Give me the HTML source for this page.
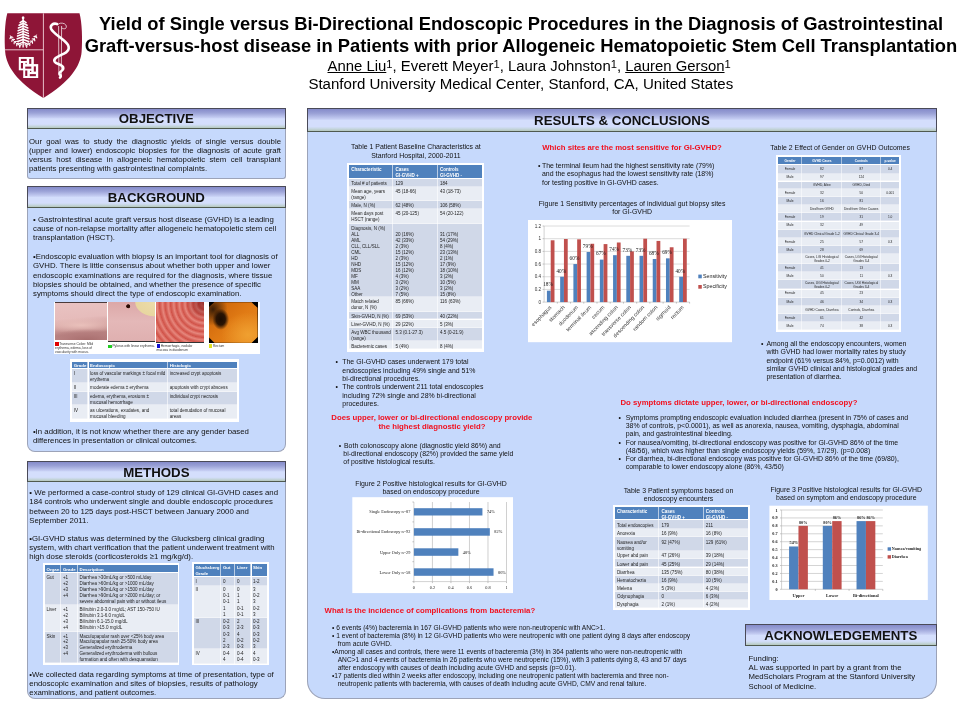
<!DOCTYPE html><html><head><meta charset="utf-8"><title>Poster</title><style>
*{margin:0;padding:0;box-sizing:border-box}
html,body{width:960px;height:720px;overflow:hidden;background:#fff}
body{position:relative;will-change:transform;font-family:"Liberation Sans",Arial,sans-serif;color:#111}
.t{position:absolute;white-space:nowrap}
.hd{position:absolute;border:1px solid #4a4a58;border-bottom:1.5px solid #4f5a4f;
 background:linear-gradient(to bottom,#858bca 0%,#9aa1d6 20%,#c4ccf2 45%,#d4defc 52%,#d4defc 80%,#c9d8e6 88%,#b5c8bd 100%)}
.bd{position:absolute;background:#c6d9fc;border:1px solid #9ca3b8;border-top:none}
.wb{position:absolute;background:#fff}
table{border-collapse:collapse;position:absolute;font-family:"Liberation Sans",Arial,sans-serif;color:#222}
</style></head><body><svg style="position:absolute;left:0;top:0" width="90" height="100" viewBox="0 0 90 100">
<path d="M7.3 13.3 L79.5 13.3 C82 22 82.6 40 81.6 52 C80.5 66 70 82 43.4 98 C16.8 82 6.3 66 5.2 52 C4.2 40 4.8 22 7.3 13.3 Z" fill="#8e1537"/>
<line x1="43.4" y1="13.3" x2="43.4" y2="97.8" stroke="#f0d0d8" stroke-width="0.9"/>
<line x1="4.5" y1="49.8" x2="43.4" y2="49.8" stroke="#f0d0d8" stroke-width="0.9"/>
<g fill="#fff" stroke="none">
 <ellipse cx="23.1" cy="17.8" rx="1.35" ry="1.6"/>
 <rect x="22.400000000000002" y="18.5" width="1.4" height="29"/>
 <ellipse cx="12.07" cy="37.10" rx="1.45" ry="0.65" transform="rotate(13.8 12.07 37.10)"/><ellipse cx="10.29" cy="37.98" rx="1.45" ry="0.65" transform="rotate(113.8 10.29 37.98)"/><ellipse cx="13.64" cy="39.45" rx="1.45" ry="0.65" transform="rotate(4.4 13.64 39.45)"/><ellipse cx="12.03" cy="40.61" rx="1.45" ry="0.65" transform="rotate(104.4 12.03 40.61)"/><ellipse cx="15.60" cy="41.54" rx="1.45" ry="0.65" transform="rotate(-5.0 15.60 41.54)"/><ellipse cx="14.19" cy="42.95" rx="1.45" ry="0.65" transform="rotate(95.0 14.19 42.95)"/><ellipse cx="17.93" cy="43.36" rx="1.45" ry="0.65" transform="rotate(-13.8 17.93 43.36)"/><ellipse cx="16.75" cy="44.97" rx="1.45" ry="0.65" transform="rotate(86.2 16.75 44.97)"/><ellipse cx="20.66" cy="44.95" rx="1.45" ry="0.65" transform="rotate(-21.6 20.66 44.95)"/><ellipse cx="19.71" cy="46.70" rx="1.45" ry="0.65" transform="rotate(78.4 19.71 46.70)"/><ellipse cx="36.47" cy="37.24" rx="1.45" ry="0.65" transform="rotate(66.4 36.47 37.24)"/><ellipse cx="34.68" cy="36.35" rx="1.45" ry="0.65" transform="rotate(166.4 34.68 36.35)"/><ellipse cx="34.66" cy="40.01" rx="1.45" ry="0.65" transform="rotate(75.3 34.66 40.01)"/><ellipse cx="33.04" cy="38.86" rx="1.45" ry="0.65" transform="rotate(175.3 33.04 38.86)"/><ellipse cx="32.44" cy="42.49" rx="1.45" ry="0.65" transform="rotate(84.0 32.44 42.49)"/><ellipse cx="31.00" cy="41.11" rx="1.45" ry="0.65" transform="rotate(184.0 31.00 41.11)"/><ellipse cx="29.80" cy="44.69" rx="1.45" ry="0.65" transform="rotate(92.1 29.80 44.69)"/><ellipse cx="28.58" cy="43.12" rx="1.45" ry="0.65" transform="rotate(192.1 28.58 43.12)"/><ellipse cx="26.77" cy="46.61" rx="1.45" ry="0.65" transform="rotate(99.5 26.77 46.61)"/><ellipse cx="25.76" cy="44.89" rx="1.45" ry="0.65" transform="rotate(199.5 25.76 44.89)"/>
</g>
<path d="M20.10 22.60 L23.10 20.60 L26.10 22.60 M19.10 25.30 L23.10 23.30 L27.10 25.30 M18.40 28.00 L23.10 26.00 L27.80 28.00 M18.10 30.70 L23.10 28.70 L28.10 30.70 M17.90 33.40 L23.10 31.40 L28.30 33.40 M17.50 36.10 L23.10 34.10 L28.70 36.10 M17.20 38.80 L23.10 36.80 L29.00 38.80 M17.50 41.50 L23.10 39.50 L28.70 41.50 M18.50 44.10 L23.10 42.10 L27.70 44.10" fill="none" stroke="#fff" stroke-width="1.55" stroke-linecap="round" stroke-linejoin="round"/>
<path d="M10.2 35.4 Q13 42.5 21 46.2 M36.6 34.6 Q33.6 42 25.4 46.2" fill="none" stroke="#fff" stroke-width="0.9"/>
<g fill="#fff">
 <rect x="18.8" y="57" width="15" height="13.3"/>
 <rect x="23.2" y="64.1" width="15" height="13.9"/>
</g>
<g fill="#8e1537">
 <rect x="20.9" y="58.9" width="5.8" height="2.1"/>
 <rect x="29.2" y="58.9" width="2.1" height="5"/>
 <rect x="25.5" y="62.8" width="1.2" height="1.3"/>
 <rect x="20.9" y="63" width="2.1" height="5.5"/>
 <rect x="25.25" y="66.6" width="6.05" height="2.1"/>
 <rect x="33.8" y="66.4" width="2.1" height="5.2"/>
 <rect x="30" y="70.75" width="1.3" height="1.25"/>
 <rect x="25.25" y="70.5" width="2.05" height="5.5"/>
 <rect x="29.8" y="74.1" width="6.1" height="2.1"/>
</g>
<g fill="none" stroke="#fff" stroke-width="0.7">
 <path d="M58.6 26 L58.9 75.5 M61.6 26 L61.3 75.5"/>
 <path d="M57.3 25.5 C58 23 62 22.5 64.5 23.8 C66.5 25 67 27 65.5 28.5 C64 29.2 62.5 28.4 61.6 28"/>
</g>
<path d="M57 23.9 C53 22.9 49.6 25.2 51.2 29 C53 33 60 37 65 41.5 C70.2 46 70 50.5 64 53.6 C58 56.6 53 58.2 54.6 61.6 C56.2 64.6 63 64.2 63.4 68 C63.8 71 59 71.4 59.5 73.6 C60 75.2 62 75.6 60 77.6" fill="none" stroke="#fff" stroke-width="2.6" stroke-linecap="round"/>
</svg>
<div class="t" style="top:13.00px;font-size:18.38px;line-height:22px;left:71.00px;width:900px;text-align:center;font-weight:bold;color:#000;">Yield of Single versus Bi-Directional Endoscopic Procedures in the Diagnosis of Gastrointestinal</div>
<div class="t" style="top:35.00px;font-size:18.38px;line-height:22px;left:71.00px;width:900px;text-align:center;font-weight:bold;color:#000;">Graft-versus-host disease in Patients with prior Allogeneic Hematopoietic Stem Cell Transplantation</div>
<div class="t" style="top:56.80px;font-size:14.9px;line-height:18px;left:327.50px;color:#000;text-underline-offset:1px;text-decoration-thickness:1px;text-decoration-color:#555;"><u>Anne Liu</u><span style="font-size:11.2px;vertical-align:3.1px;line-height:0">1</span>, Everett Meyer<span style="font-size:11.2px;vertical-align:3.1px;line-height:0">1</span>, Laura Johnston<span style="font-size:11.2px;vertical-align:3.1px;line-height:0">1</span>, <u>Lauren Gerson</u><span style="font-size:11.2px;vertical-align:3.1px;line-height:0">1</span></div>
<div class="t" style="top:74.70px;font-size:15.05px;line-height:18px;left:308.40px;color:#000;">Stanford University Medical Center, Stanford, CA, United States</div>
<div class="hd" style="left:27px;top:108.2px;width:258.7px;height:20.700000000000003px;"></div>
<div class="t" style="top:111.30px;font-size:13.25px;line-height:15.899999999999999px;left:27.00px;width:258.7px;text-align:center;font-weight:bold;">OBJECTIVE</div>
<div class="bd" style="left:27px;top:128.9px;width:258.7px;height:50.29999999999998px;border-radius:0 0 3px 3px;"></div>
<div class="hd" style="left:27px;top:186.0px;width:258.7px;height:22.0px;"></div>
<div class="t" style="top:190.30px;font-size:13.25px;line-height:15.899999999999999px;left:27.00px;width:258.7px;text-align:center;font-weight:bold;">BACKGROUND</div>
<div class="bd" style="left:27px;top:208.0px;width:258.7px;height:243.7px;border-radius:0 0 8px 8px;"></div>
<div class="hd" style="left:27px;top:461.25px;width:258.7px;height:21.05000000000001px;"></div>
<div class="t" style="top:464.80px;font-size:13.25px;line-height:15.899999999999999px;left:27.00px;width:258.7px;text-align:center;font-weight:bold;">METHODS</div>
<div class="bd" style="left:27px;top:482.3px;width:258.7px;height:216.90000000000003px;border-radius:0 0 8px 8px;"></div>
<div style="position:absolute;left:29px;top:137.30px;width:252px;font-size:7.8px;line-height:9.0px;white-space:nowrap;text-align:justify;text-align-last:justify;white-space:normal;">Our goal was to study the diagnostic yields of single versus double</div><div style="position:absolute;left:29px;top:146.30px;width:252px;font-size:7.8px;line-height:9.0px;white-space:nowrap;text-align:justify;text-align-last:justify;white-space:normal;">(upper and lower) endoscopic biopsies for the diagnosis of acute graft</div><div style="position:absolute;left:29px;top:155.30px;width:252px;font-size:7.8px;line-height:9.0px;white-space:nowrap;text-align:justify;text-align-last:justify;white-space:normal;">versus host disease in allogeneic hematopoietic stem cell transplant</div><div style="position:absolute;left:29px;top:164.30px;width:252px;font-size:7.8px;line-height:9.0px;white-space:nowrap;">patients presenting with gastrointestinal complaints.</div>
<div class="t" style="top:214.90px;font-size:7.8px;line-height:9.3px;left:33.10px;">• Gastrointestinal acute graft versus host disease (GVHD) is a leading<br>cause of non-relapse mortality after allogeneic hematopoietic stem cell<br>transplantation (HSCT).</div>
<div class="t" style="top:252.20px;font-size:7.8px;line-height:9.3px;left:33.00px;">•Endoscopic evaluation with biopsy is an important tool for diagnosis of<br>GVHD. There is little consensus about whether both upper and lower<br>endoscopic examinations are required for the diagnosis, where tissue<br>biopsies should be obtained, and whether the presence of specific<br>symptoms should direct the type of endoscopic examination.</div>
<div class="t" style="top:426.75px;font-size:7.8px;line-height:9.3px;left:32.90px;">•In addition, it is not know whether there are any gender based<br>differences in presentation or clinical outcomes.</div>
<div class="t" style="top:488.10px;font-size:7.8px;line-height:9.3px;left:29.30px;">• We performed a case-control study of 129 clinical GI-GVHD cases and<br>184 controls who underwent single and double endoscopic procedures<br>between 20 to 125 days post-HSCT between January 2000 and<br>September 2011.</div>
<div class="t" style="top:533.50px;font-size:7.8px;line-height:9.3px;left:29.30px;">•GI-GVHD status was determined by the Glucksberg clinical grading<br>system, with chart verification that the patient underwent treatment with<br>high dose steroids (corticosteroids ≥1 mg/kg/d).</div>
<div class="t" style="top:669.60px;font-size:7.8px;line-height:9.3px;left:29.30px;">•We collected data regarding symptoms at time of presentation, type of<br>endoscopic examination and sites of biopsies, results of pathology<br>examinations, and patient outcomes.</div>
<div class="wb" style="left:53.75px;top:301.9px;width:206.25px;height:52.1px"></div>
<div style="position:absolute;left:55px;top:302.2px;width:51.900000000000006px;height:37.80000000000001px;background:radial-gradient(ellipse 75% 30% at 62% 100%, #a86e6e 0%, #b47c7c 55%, transparent 100%), radial-gradient(ellipse 85% 22% at 50% 60%, rgba(236,196,190,0.9) 0%, transparent 100%), linear-gradient(175deg,#e9c3c2 0%,#e6bcbb 40%,#cf9c9b 62%,#b98382 80%,#c08c8b 100%);border-top:1.5px solid #4a3a3a;"></div>
<div style="position:absolute;left:108px;top:302.2px;width:47px;height:40.30000000000001px;background:radial-gradient(ellipse 5% 6% at 43% 11%, #2a0c04 0%, #2a0c04 70%, transparent 100%), radial-gradient(ellipse 48% 42% at 100% 0%, #ecdcaa 0%, #e8d6a0 85%, transparent 90%), linear-gradient(180deg,#dca8a8 0%,#e4b8b8 50%,#dfb0b0 100%);border-bottom:1.2px solid #333;"></div>
<div style="position:absolute;left:156.25px;top:302.2px;width:48.150000000000006px;height:40.55000000000001px;background:radial-gradient(circle at 100% 0%, rgba(120,20,20,0.7) 0%, transparent 30%), repeating-radial-gradient(circle at 100% 5%, #d65a50 0, #e6877d 2.2px, #d66258 4.2px, #d05248 5.6px), linear-gradient(#d86a60,#d86a60);border-bottom:1.2px solid #333;"></div>
<div style="position:absolute;left:208.5px;top:302.2px;width:49px;height:40.55px;background:#000"></div>
<div style="position:absolute;left:208.5px;top:302.2px;width:49.0px;height:40.55000000000001px;background:radial-gradient(ellipse 17% 26% at 24% 42%, #1a0c02 0%, #2a1404 55%, transparent 100%), radial-gradient(ellipse 30% 40% at 8% 18%, #3a1e06 0%, transparent 100%), radial-gradient(ellipse 55% 55% at 80% 80%, #f0a030 0%, transparent 100%), linear-gradient(135deg,#c86008 0%,#e07a14 50%,#e88a20 100%);clip-path:polygon(12% 0,88% 0,100% 14%,100% 86%,88% 100%,12% 100%,0 86%,0 14%);"></div>
<div style="position:absolute;left:55px;top:342.3px;width:3.6px;height:3.6px;background:#e00000"></div>
<div class="t" style="left:59.2px;top:341.7px;font-size:3.3px;line-height:4.3px;color:#333">Transverse Colon: Mild</div>
<div class="t" style="left:55px;top:346.1px;font-size:3.3px;line-height:4.3px;color:#333">erythema, edema, loss of<br>vascularity with mucus.</div>
<div style="position:absolute;left:108.2px;top:344.6px;width:3.6px;height:3.6px;background:#22cc22"></div>
<div class="t" style="left:112.4px;top:344.0px;font-size:3.3px;line-height:4.3px;color:#333">Pylorus with linear erythema.</div>
<div style="position:absolute;left:156.5px;top:344.3px;width:3.6px;height:3.6px;background:#1010d0"></div>
<div class="t" style="left:160.7px;top:343.7px;font-size:3.3px;line-height:4.3px;color:#333">Hemorrhagic, nodular</div>
<div class="t" style="left:156.5px;top:348.1px;font-size:3.3px;line-height:4.3px;color:#333">mucosa in duodenum</div>
<div style="position:absolute;left:208.7px;top:344.3px;width:3.6px;height:3.6px;background:#e0e020"></div>
<div class="t" style="left:212.89999999999998px;top:343.7px;font-size:3.3px;line-height:4.3px;color:#333">Rectum</div>
<div class="wb" style="left:69.7px;top:359.1px;width:169.39999999999998px;height:62.5px"></div>
<div style="position:absolute;left:72.10px;top:361.60px;width:16.40px;height:7.50px;background:#4f81bd;box-shadow:inset -1px 0 0 rgba(255,255,255,0.6),inset 0 -1px 0 #fff;"></div><div style="position:absolute;left:73.70px;top:363.20px;font-size:4.4px;line-height:6.0px;color:#fff;font-weight:bold;white-space:nowrap;">Grade</div><div style="position:absolute;left:88.50px;top:361.60px;width:79.70px;height:7.50px;background:#4f81bd;box-shadow:inset -1px 0 0 rgba(255,255,255,0.6),inset 0 -1px 0 #fff;"></div><div style="position:absolute;left:90.10px;top:363.20px;font-size:4.4px;line-height:6.0px;color:#fff;font-weight:bold;white-space:nowrap;">Endoscopic</div><div style="position:absolute;left:168.20px;top:361.60px;width:68.50px;height:7.50px;background:#4f81bd;box-shadow:inset 0 -1px 0 #fff;"></div><div style="position:absolute;left:169.80px;top:363.20px;font-size:4.4px;line-height:6.0px;color:#fff;font-weight:bold;white-space:nowrap;">Histologic</div><div style="position:absolute;left:72.10px;top:369.10px;width:16.40px;height:13.70px;background:#d0d8e8;box-shadow:inset -1px 0 0 rgba(255,255,255,0.6),inset 0 -1px 0 rgba(255,255,255,0.4);"></div><div style="position:absolute;left:73.70px;top:371.30px;font-size:4.55px;line-height:6.0px;color:#1e1e1e;font-weight:normal;white-space:nowrap;">I</div><div style="position:absolute;left:88.50px;top:369.10px;width:79.70px;height:13.70px;background:#d0d8e8;box-shadow:inset -1px 0 0 rgba(255,255,255,0.6),inset 0 -1px 0 rgba(255,255,255,0.4);"></div><div style="position:absolute;left:90.10px;top:371.30px;font-size:4.55px;line-height:6.0px;color:#1e1e1e;font-weight:normal;white-space:nowrap;">loss of vascular markings ± focal mild<br>erythema</div><div style="position:absolute;left:168.20px;top:369.10px;width:68.50px;height:13.70px;background:#d0d8e8;box-shadow:inset 0 -1px 0 rgba(255,255,255,0.4);"></div><div style="position:absolute;left:169.80px;top:371.30px;font-size:4.55px;line-height:6.0px;color:#1e1e1e;font-weight:normal;white-space:nowrap;">increased crypt apoptosis</div><div style="position:absolute;left:72.10px;top:382.80px;width:16.40px;height:8.80px;background:#e9edf4;box-shadow:inset -1px 0 0 rgba(255,255,255,0.6),inset 0 -1px 0 rgba(255,255,255,0.4);"></div><div style="position:absolute;left:73.70px;top:385.00px;font-size:4.55px;line-height:6.0px;color:#1e1e1e;font-weight:normal;white-space:nowrap;">II</div><div style="position:absolute;left:88.50px;top:382.80px;width:79.70px;height:8.80px;background:#e9edf4;box-shadow:inset -1px 0 0 rgba(255,255,255,0.6),inset 0 -1px 0 rgba(255,255,255,0.4);"></div><div style="position:absolute;left:90.10px;top:385.00px;font-size:4.55px;line-height:6.0px;color:#1e1e1e;font-weight:normal;white-space:nowrap;">moderate edema ± erythema</div><div style="position:absolute;left:168.20px;top:382.80px;width:68.50px;height:8.80px;background:#e9edf4;box-shadow:inset 0 -1px 0 rgba(255,255,255,0.4);"></div><div style="position:absolute;left:169.80px;top:385.00px;font-size:4.55px;line-height:6.0px;color:#1e1e1e;font-weight:normal;white-space:nowrap;">apoptosis with crypt abscess</div><div style="position:absolute;left:72.10px;top:391.60px;width:16.40px;height:13.70px;background:#d0d8e8;box-shadow:inset -1px 0 0 rgba(255,255,255,0.6),inset 0 -1px 0 rgba(255,255,255,0.4);"></div><div style="position:absolute;left:73.70px;top:393.80px;font-size:4.55px;line-height:6.0px;color:#1e1e1e;font-weight:normal;white-space:nowrap;">III</div><div style="position:absolute;left:88.50px;top:391.60px;width:79.70px;height:13.70px;background:#d0d8e8;box-shadow:inset -1px 0 0 rgba(255,255,255,0.6),inset 0 -1px 0 rgba(255,255,255,0.4);"></div><div style="position:absolute;left:90.10px;top:393.80px;font-size:4.55px;line-height:6.0px;color:#1e1e1e;font-weight:normal;white-space:nowrap;">edema, erythema, erosions ±<br>mucosal hemorrhage</div><div style="position:absolute;left:168.20px;top:391.60px;width:68.50px;height:13.70px;background:#d0d8e8;box-shadow:inset 0 -1px 0 rgba(255,255,255,0.4);"></div><div style="position:absolute;left:169.80px;top:393.80px;font-size:4.55px;line-height:6.0px;color:#1e1e1e;font-weight:normal;white-space:nowrap;">individual crypt necrosis</div><div style="position:absolute;left:72.10px;top:405.30px;width:16.40px;height:14.10px;background:#e9edf4;box-shadow:inset -1px 0 0 rgba(255,255,255,0.6),inset 0 -1px 0 rgba(255,255,255,0.4);"></div><div style="position:absolute;left:73.70px;top:407.50px;font-size:4.55px;line-height:6.0px;color:#1e1e1e;font-weight:normal;white-space:nowrap;">IV</div><div style="position:absolute;left:88.50px;top:405.30px;width:79.70px;height:14.10px;background:#e9edf4;box-shadow:inset -1px 0 0 rgba(255,255,255,0.6),inset 0 -1px 0 rgba(255,255,255,0.4);"></div><div style="position:absolute;left:90.10px;top:407.50px;font-size:4.55px;line-height:6.0px;color:#1e1e1e;font-weight:normal;white-space:nowrap;">as ulcerations, exudates, and<br>mucosal bleeding</div><div style="position:absolute;left:168.20px;top:405.30px;width:68.50px;height:14.10px;background:#e9edf4;box-shadow:inset 0 -1px 0 rgba(255,255,255,0.4);"></div><div style="position:absolute;left:169.80px;top:407.50px;font-size:4.55px;line-height:6.0px;color:#1e1e1e;font-weight:normal;white-space:nowrap;">total denudation of mucosal<br>areas</div>
<div class="wb" style="left:43.4px;top:563.1px;width:136.1px;height:101.60000000000002px"></div>
<div style="position:absolute;left:45.00px;top:565.20px;width:16.40px;height:7.60px;background:#4f81bd;box-shadow:inset -1px 0 0 rgba(255,255,255,0.6),inset 0 -1px 0 #fff;"></div><div style="position:absolute;left:46.50px;top:566.80px;font-size:4.4px;line-height:5.95px;color:#fff;font-weight:bold;white-space:nowrap;">Organ</div><div style="position:absolute;left:61.40px;top:565.20px;width:16.60px;height:7.60px;background:#4f81bd;box-shadow:inset -1px 0 0 rgba(255,255,255,0.6),inset 0 -1px 0 #fff;"></div><div style="position:absolute;left:62.90px;top:566.80px;font-size:4.4px;line-height:5.95px;color:#fff;font-weight:bold;white-space:nowrap;">Grade</div><div style="position:absolute;left:78.00px;top:565.20px;width:100.00px;height:7.60px;background:#4f81bd;box-shadow:inset 0 -1px 0 #fff;"></div><div style="position:absolute;left:79.50px;top:566.80px;font-size:4.4px;line-height:5.95px;color:#fff;font-weight:bold;white-space:nowrap;">Description</div><div style="position:absolute;left:45.00px;top:572.80px;width:16.40px;height:32.00px;background:#d0d8e8;box-shadow:inset -1px 0 0 rgba(255,255,255,0.6),inset 0 -1px 0 rgba(255,255,255,0.4);"></div><div style="position:absolute;left:46.50px;top:574.70px;font-size:4.55px;line-height:5.95px;color:#1e1e1e;font-weight:normal;white-space:nowrap;">Gut</div><div style="position:absolute;left:61.40px;top:572.80px;width:16.60px;height:32.00px;background:#d0d8e8;box-shadow:inset -1px 0 0 rgba(255,255,255,0.6),inset 0 -1px 0 rgba(255,255,255,0.4);"></div><div style="position:absolute;left:62.90px;top:574.70px;font-size:4.55px;line-height:5.95px;color:#1e1e1e;font-weight:normal;white-space:nowrap;">+1<br>+2<br>+3<br>+4</div><div style="position:absolute;left:78.00px;top:572.80px;width:100.00px;height:32.00px;background:#d0d8e8;box-shadow:inset 0 -1px 0 rgba(255,255,255,0.4);"></div><div style="position:absolute;left:79.50px;top:574.70px;font-size:4.55px;line-height:5.95px;color:#1e1e1e;font-weight:normal;white-space:nowrap;">Diarrhea &gt;30mL/kg or &gt;500 mL/day<br>Diarrhea &gt;60mL/kg or &gt;1000 mL/day<br>Diarrhea &gt;90mL/kg or &gt;1500 mL/day<br>Diarrhea &gt;90mL/kg or &gt;2000 mL/day; or<br>severe abdominal pain with or without ileus</div><div style="position:absolute;left:45.00px;top:604.80px;width:16.40px;height:26.80px;background:#e9edf4;box-shadow:inset -1px 0 0 rgba(255,255,255,0.6),inset 0 -1px 0 rgba(255,255,255,0.4);"></div><div style="position:absolute;left:46.50px;top:606.70px;font-size:4.55px;line-height:5.95px;color:#1e1e1e;font-weight:normal;white-space:nowrap;">Liver</div><div style="position:absolute;left:61.40px;top:604.80px;width:16.60px;height:26.80px;background:#e9edf4;box-shadow:inset -1px 0 0 rgba(255,255,255,0.6),inset 0 -1px 0 rgba(255,255,255,0.4);"></div><div style="position:absolute;left:62.90px;top:606.70px;font-size:4.55px;line-height:5.95px;color:#1e1e1e;font-weight:normal;white-space:nowrap;">+1<br>+2<br>+3<br>+4</div><div style="position:absolute;left:78.00px;top:604.80px;width:100.00px;height:26.80px;background:#e9edf4;box-shadow:inset 0 -1px 0 rgba(255,255,255,0.4);"></div><div style="position:absolute;left:79.50px;top:606.70px;font-size:4.55px;line-height:5.95px;color:#1e1e1e;font-weight:normal;white-space:nowrap;">Bilirubin 2.0-3.0 mg/dL; AST 150-750 IU<br>Bilirubin 3.1-6.0 mg/dL<br>Bilirubin 6.1-15.0 mg/dL<br>Bilirubin &gt;15.0 mg/dL</div><div style="position:absolute;left:45.00px;top:631.60px;width:16.40px;height:31.50px;background:#d0d8e8;box-shadow:inset -1px 0 0 rgba(255,255,255,0.6),inset 0 -1px 0 rgba(255,255,255,0.4);"></div><div style="position:absolute;left:46.50px;top:633.50px;font-size:4.55px;line-height:5.95px;color:#1e1e1e;font-weight:normal;white-space:nowrap;">Skin</div><div style="position:absolute;left:61.40px;top:631.60px;width:16.60px;height:31.50px;background:#d0d8e8;box-shadow:inset -1px 0 0 rgba(255,255,255,0.6),inset 0 -1px 0 rgba(255,255,255,0.4);"></div><div style="position:absolute;left:62.90px;top:633.50px;font-size:4.55px;line-height:5.95px;color:#1e1e1e;font-weight:normal;white-space:nowrap;">+1<br>+2<br>+3<br>+4</div><div style="position:absolute;left:78.00px;top:631.60px;width:100.00px;height:31.50px;background:#d0d8e8;box-shadow:inset 0 -1px 0 rgba(255,255,255,0.4);"></div><div style="position:absolute;left:79.50px;top:633.50px;font-size:4.55px;line-height:5.95px;color:#1e1e1e;font-weight:normal;white-space:nowrap;">Maculopapular rash over &lt;25% body area<br>Maculopapular rash 25-50% body area<br>Generalized erythroderma<br>Generalized erythroderma with bullous<br>formation and often with desquamation</div>
<div class="wb" style="left:191.9px;top:562.3px;width:76.79999999999998px;height:103.10000000000002px"></div>
<div style="position:absolute;left:193.90px;top:563.80px;width:27.50px;height:13.30px;background:#4f81bd;box-shadow:inset -1px 0 0 rgba(255,255,255,0.6),inset 0 -1px 0 #fff;"></div><div style="position:absolute;left:195.40px;top:565.10px;font-size:4.4px;line-height:6.1px;color:#fff;font-weight:bold;white-space:nowrap;">Glucksberg<br>Grade</div><div style="position:absolute;left:221.40px;top:563.80px;width:14.00px;height:13.30px;background:#4f81bd;box-shadow:inset -1px 0 0 rgba(255,255,255,0.6),inset 0 -1px 0 #fff;"></div><div style="position:absolute;left:222.90px;top:565.10px;font-size:4.4px;line-height:6.1px;color:#fff;font-weight:bold;white-space:nowrap;">Gut</div><div style="position:absolute;left:235.40px;top:563.80px;width:16.10px;height:13.30px;background:#4f81bd;box-shadow:inset -1px 0 0 rgba(255,255,255,0.6),inset 0 -1px 0 #fff;"></div><div style="position:absolute;left:236.90px;top:565.10px;font-size:4.4px;line-height:6.1px;color:#fff;font-weight:bold;white-space:nowrap;">Liver</div><div style="position:absolute;left:251.50px;top:563.80px;width:15.30px;height:13.30px;background:#4f81bd;box-shadow:inset 0 -1px 0 #fff;"></div><div style="position:absolute;left:253.00px;top:565.10px;font-size:4.4px;line-height:6.1px;color:#fff;font-weight:bold;white-space:nowrap;">Skin</div><div style="position:absolute;left:193.90px;top:577.10px;width:27.50px;height:8.60px;background:#d0d8e8;box-shadow:inset -1px 0 0 rgba(255,255,255,0.6),inset 0 -1px 0 rgba(255,255,255,0.4);"></div><div style="position:absolute;left:195.40px;top:578.70px;font-size:4.55px;line-height:6.1px;color:#1e1e1e;font-weight:normal;white-space:nowrap;">I</div><div style="position:absolute;left:221.40px;top:577.10px;width:14.00px;height:8.60px;background:#d0d8e8;box-shadow:inset -1px 0 0 rgba(255,255,255,0.6),inset 0 -1px 0 rgba(255,255,255,0.4);"></div><div style="position:absolute;left:222.90px;top:578.70px;font-size:4.55px;line-height:6.1px;color:#1e1e1e;font-weight:normal;white-space:nowrap;">0</div><div style="position:absolute;left:235.40px;top:577.10px;width:16.10px;height:8.60px;background:#d0d8e8;box-shadow:inset -1px 0 0 rgba(255,255,255,0.6),inset 0 -1px 0 rgba(255,255,255,0.4);"></div><div style="position:absolute;left:236.90px;top:578.70px;font-size:4.55px;line-height:6.1px;color:#1e1e1e;font-weight:normal;white-space:nowrap;">0</div><div style="position:absolute;left:251.50px;top:577.10px;width:15.30px;height:8.60px;background:#d0d8e8;box-shadow:inset 0 -1px 0 rgba(255,255,255,0.4);"></div><div style="position:absolute;left:253.00px;top:578.70px;font-size:4.55px;line-height:6.1px;color:#1e1e1e;font-weight:normal;white-space:nowrap;">1-2</div><div style="position:absolute;left:193.90px;top:585.70px;width:27.50px;height:32.10px;background:#e9edf4;box-shadow:inset -1px 0 0 rgba(255,255,255,0.6),inset 0 -1px 0 rgba(255,255,255,0.4);"></div><div style="position:absolute;left:195.40px;top:587.30px;font-size:4.55px;line-height:6.1px;color:#1e1e1e;font-weight:normal;white-space:nowrap;">II</div><div style="position:absolute;left:221.40px;top:585.70px;width:14.00px;height:32.10px;background:#e9edf4;box-shadow:inset -1px 0 0 rgba(255,255,255,0.6),inset 0 -1px 0 rgba(255,255,255,0.4);"></div><div style="position:absolute;left:222.90px;top:587.30px;font-size:4.55px;line-height:6.1px;color:#1e1e1e;font-weight:normal;white-space:nowrap;">0<br>0-1<br>0-1<br>1<br>1</div><div style="position:absolute;left:235.40px;top:585.70px;width:16.10px;height:32.10px;background:#e9edf4;box-shadow:inset -1px 0 0 rgba(255,255,255,0.6),inset 0 -1px 0 rgba(255,255,255,0.4);"></div><div style="position:absolute;left:236.90px;top:587.30px;font-size:4.55px;line-height:6.1px;color:#1e1e1e;font-weight:normal;white-space:nowrap;">0<br>1<br>1<br>0-1<br>0-1</div><div style="position:absolute;left:251.50px;top:585.70px;width:15.30px;height:32.10px;background:#e9edf4;box-shadow:inset 0 -1px 0 rgba(255,255,255,0.4);"></div><div style="position:absolute;left:253.00px;top:587.30px;font-size:4.55px;line-height:6.1px;color:#1e1e1e;font-weight:normal;white-space:nowrap;">3<br>0-2<br>3<br>0-2<br>3</div><div style="position:absolute;left:193.90px;top:617.80px;width:27.50px;height:31.60px;background:#d0d8e8;box-shadow:inset -1px 0 0 rgba(255,255,255,0.6),inset 0 -1px 0 rgba(255,255,255,0.4);"></div><div style="position:absolute;left:195.40px;top:619.40px;font-size:4.55px;line-height:6.1px;color:#1e1e1e;font-weight:normal;white-space:nowrap;">III</div><div style="position:absolute;left:221.40px;top:617.80px;width:14.00px;height:31.60px;background:#d0d8e8;box-shadow:inset -1px 0 0 rgba(255,255,255,0.6),inset 0 -1px 0 rgba(255,255,255,0.4);"></div><div style="position:absolute;left:222.90px;top:619.40px;font-size:4.55px;line-height:6.1px;color:#1e1e1e;font-weight:normal;white-space:nowrap;">0-2<br>0-3<br>0-3<br>2<br>2-3</div><div style="position:absolute;left:235.40px;top:617.80px;width:16.10px;height:31.60px;background:#d0d8e8;box-shadow:inset -1px 0 0 rgba(255,255,255,0.6),inset 0 -1px 0 rgba(255,255,255,0.4);"></div><div style="position:absolute;left:236.90px;top:619.40px;font-size:4.55px;line-height:6.1px;color:#1e1e1e;font-weight:normal;white-space:nowrap;">2<br>2-3<br>4<br>0-2<br>0-3</div><div style="position:absolute;left:251.50px;top:617.80px;width:15.30px;height:31.60px;background:#d0d8e8;box-shadow:inset 0 -1px 0 rgba(255,255,255,0.4);"></div><div style="position:absolute;left:253.00px;top:619.40px;font-size:4.55px;line-height:6.1px;color:#1e1e1e;font-weight:normal;white-space:nowrap;">0-2<br>0-3<br>0-3<br>0-2<br>3</div><div style="position:absolute;left:193.90px;top:649.40px;width:27.50px;height:14.20px;background:#e9edf4;box-shadow:inset -1px 0 0 rgba(255,255,255,0.6),inset 0 -1px 0 rgba(255,255,255,0.4);"></div><div style="position:absolute;left:195.40px;top:651.00px;font-size:4.55px;line-height:6.1px;color:#1e1e1e;font-weight:normal;white-space:nowrap;">IV</div><div style="position:absolute;left:221.40px;top:649.40px;width:14.00px;height:14.20px;background:#e9edf4;box-shadow:inset -1px 0 0 rgba(255,255,255,0.6),inset 0 -1px 0 rgba(255,255,255,0.4);"></div><div style="position:absolute;left:222.90px;top:651.00px;font-size:4.55px;line-height:6.1px;color:#1e1e1e;font-weight:normal;white-space:nowrap;">0-4<br>4</div><div style="position:absolute;left:235.40px;top:649.40px;width:16.10px;height:14.20px;background:#e9edf4;box-shadow:inset -1px 0 0 rgba(255,255,255,0.6),inset 0 -1px 0 rgba(255,255,255,0.4);"></div><div style="position:absolute;left:236.90px;top:651.00px;font-size:4.55px;line-height:6.1px;color:#1e1e1e;font-weight:normal;white-space:nowrap;">0-4<br>0-4</div><div style="position:absolute;left:251.50px;top:649.40px;width:15.30px;height:14.20px;background:#e9edf4;box-shadow:inset 0 -1px 0 rgba(255,255,255,0.4);"></div><div style="position:absolute;left:253.00px;top:651.00px;font-size:4.55px;line-height:6.1px;color:#1e1e1e;font-weight:normal;white-space:nowrap;">4<br>0-3</div>
<div class="hd" style="left:307.2px;top:108.1px;width:629.5px;height:23.700000000000017px;"></div>
<div class="t" style="top:112.80px;font-size:13.25px;line-height:15.899999999999999px;left:307.20px;width:629.5px;text-align:center;font-weight:bold;">RESULTS &amp; CONCLUSIONS</div>
<div class="bd" style="left:307.2px;top:131.8px;width:629.5px;height:567.4000000000001px;border-radius:0 0 18px 18px;"></div>
<div class="t" style="top:143.10px;font-size:6.93px;line-height:8.5px;left:315.90px;width:200px;text-align:center;">Table 1 Patient Baseline Characteristics at<br>Stanford Hospital, 2000-2011</div>
<div class="wb" style="left:347.3px;top:163.4px;width:137.2px;height:188.20000000000002px"></div>
<div style="position:absolute;left:349.00px;top:164.90px;width:44.20px;height:13.80px;background:#4f81bd;box-shadow:inset -1px 0 0 rgba(255,255,255,0.6),inset 0 -1px 0 #fff;"></div><div style="position:absolute;left:351.20px;top:167.00px;font-size:4.55px;line-height:6.0px;color:#fff;font-weight:bold;white-space:nowrap;">Characteristic</div><div style="position:absolute;left:393.20px;top:164.90px;width:44.50px;height:13.80px;background:#4f81bd;box-shadow:inset -1px 0 0 rgba(255,255,255,0.6),inset 0 -1px 0 #fff;"></div><div style="position:absolute;left:395.40px;top:167.00px;font-size:4.55px;line-height:6.0px;color:#fff;font-weight:bold;white-space:nowrap;">Cases<br>GI-GVHD +</div><div style="position:absolute;left:437.70px;top:164.90px;width:44.50px;height:13.80px;background:#4f81bd;box-shadow:inset 0 -1px 0 #fff;"></div><div style="position:absolute;left:439.90px;top:167.00px;font-size:4.55px;line-height:6.0px;color:#fff;font-weight:bold;white-space:nowrap;">Controls<br>GI-GVHD -</div><div style="position:absolute;left:349.00px;top:178.70px;width:44.20px;height:8.30px;background:#d0d8e8;box-shadow:inset -1px 0 0 rgba(255,255,255,0.6),inset 0 -1px 0 rgba(255,255,255,0.4);"></div><div style="position:absolute;left:351.20px;top:181.00px;font-size:4.55px;line-height:6.0px;color:#1e1e1e;font-weight:normal;white-space:nowrap;">Total # of patients</div><div style="position:absolute;left:393.20px;top:178.70px;width:44.50px;height:8.30px;background:#d0d8e8;box-shadow:inset -1px 0 0 rgba(255,255,255,0.6),inset 0 -1px 0 rgba(255,255,255,0.4);"></div><div style="position:absolute;left:395.40px;top:181.00px;font-size:4.55px;line-height:6.0px;color:#1e1e1e;font-weight:normal;white-space:nowrap;">129</div><div style="position:absolute;left:437.70px;top:178.70px;width:44.50px;height:8.30px;background:#d0d8e8;box-shadow:inset 0 -1px 0 rgba(255,255,255,0.4);"></div><div style="position:absolute;left:439.90px;top:181.00px;font-size:4.55px;line-height:6.0px;color:#1e1e1e;font-weight:normal;white-space:nowrap;">184</div><div style="position:absolute;left:349.00px;top:187.00px;width:44.20px;height:13.80px;background:#e9edf4;box-shadow:inset -1px 0 0 rgba(255,255,255,0.6),inset 0 -1px 0 rgba(255,255,255,0.4);"></div><div style="position:absolute;left:351.20px;top:189.30px;font-size:4.55px;line-height:6.0px;color:#1e1e1e;font-weight:normal;white-space:nowrap;">Mean age, years<br>(range)</div><div style="position:absolute;left:393.20px;top:187.00px;width:44.50px;height:13.80px;background:#e9edf4;box-shadow:inset -1px 0 0 rgba(255,255,255,0.6),inset 0 -1px 0 rgba(255,255,255,0.4);"></div><div style="position:absolute;left:395.40px;top:189.30px;font-size:4.55px;line-height:6.0px;color:#1e1e1e;font-weight:normal;white-space:nowrap;">45 (18-66)</div><div style="position:absolute;left:437.70px;top:187.00px;width:44.50px;height:13.80px;background:#e9edf4;box-shadow:inset 0 -1px 0 rgba(255,255,255,0.4);"></div><div style="position:absolute;left:439.90px;top:189.30px;font-size:4.55px;line-height:6.0px;color:#1e1e1e;font-weight:normal;white-space:nowrap;">43 (18-73)</div><div style="position:absolute;left:349.00px;top:200.80px;width:44.20px;height:7.80px;background:#d0d8e8;box-shadow:inset -1px 0 0 rgba(255,255,255,0.6),inset 0 -1px 0 rgba(255,255,255,0.4);"></div><div style="position:absolute;left:351.20px;top:203.10px;font-size:4.55px;line-height:6.0px;color:#1e1e1e;font-weight:normal;white-space:nowrap;">Male, N (%)</div><div style="position:absolute;left:393.20px;top:200.80px;width:44.50px;height:7.80px;background:#d0d8e8;box-shadow:inset -1px 0 0 rgba(255,255,255,0.6),inset 0 -1px 0 rgba(255,255,255,0.4);"></div><div style="position:absolute;left:395.40px;top:203.10px;font-size:4.55px;line-height:6.0px;color:#1e1e1e;font-weight:normal;white-space:nowrap;">62 (48%)</div><div style="position:absolute;left:437.70px;top:200.80px;width:44.50px;height:7.80px;background:#d0d8e8;box-shadow:inset 0 -1px 0 rgba(255,255,255,0.4);"></div><div style="position:absolute;left:439.90px;top:203.10px;font-size:4.55px;line-height:6.0px;color:#1e1e1e;font-weight:normal;white-space:nowrap;">106 (58%)</div><div style="position:absolute;left:349.00px;top:208.60px;width:44.20px;height:15.10px;background:#e9edf4;box-shadow:inset -1px 0 0 rgba(255,255,255,0.6),inset 0 -1px 0 rgba(255,255,255,0.4);"></div><div style="position:absolute;left:351.20px;top:210.90px;font-size:4.55px;line-height:6.0px;color:#1e1e1e;font-weight:normal;white-space:nowrap;">Mean days post<br>HSCT (range)</div><div style="position:absolute;left:393.20px;top:208.60px;width:44.50px;height:15.10px;background:#e9edf4;box-shadow:inset -1px 0 0 rgba(255,255,255,0.6),inset 0 -1px 0 rgba(255,255,255,0.4);"></div><div style="position:absolute;left:395.40px;top:210.90px;font-size:4.55px;line-height:6.0px;color:#1e1e1e;font-weight:normal;white-space:nowrap;">45 (20-125)</div><div style="position:absolute;left:437.70px;top:208.60px;width:44.50px;height:15.10px;background:#e9edf4;box-shadow:inset 0 -1px 0 rgba(255,255,255,0.4);"></div><div style="position:absolute;left:439.90px;top:210.90px;font-size:4.55px;line-height:6.0px;color:#1e1e1e;font-weight:normal;white-space:nowrap;">54 (20-122)</div><div style="position:absolute;left:349.00px;top:223.70px;width:44.20px;height:73.20px;background:#d0d8e8;box-shadow:inset -1px 0 0 rgba(255,255,255,0.6),inset 0 -1px 0 rgba(255,255,255,0.4);"></div><div style="position:absolute;left:351.20px;top:226.00px;font-size:4.55px;line-height:6.0px;color:#1e1e1e;font-weight:normal;white-space:nowrap;">Diagnosis, N (%)<br>ALL<br>AML<br>CLL, CLL/SLL<br>CML<br>HD<br>NHD<br>MDS<br>MF<br>MM<br>SAA<br><i>Other</i></div><div style="position:absolute;left:393.20px;top:223.70px;width:44.50px;height:73.20px;background:#d0d8e8;box-shadow:inset -1px 0 0 rgba(255,255,255,0.6),inset 0 -1px 0 rgba(255,255,255,0.4);"></div><div style="position:absolute;left:395.40px;top:226.00px;font-size:4.55px;line-height:6.0px;color:#1e1e1e;font-weight:normal;white-space:nowrap;"><br>20 (16%)<br>42 (33%)<br>2 (3%)<br>15 (12%)<br>2 (3%)<br>15 (12%)<br>16 (12%)<br>4 (3%)<br>3 (2%)<br>3 (2%)<br>7 (5%)</div><div style="position:absolute;left:437.70px;top:223.70px;width:44.50px;height:73.20px;background:#d0d8e8;box-shadow:inset 0 -1px 0 rgba(255,255,255,0.4);"></div><div style="position:absolute;left:439.90px;top:226.00px;font-size:4.55px;line-height:6.0px;color:#1e1e1e;font-weight:normal;white-space:nowrap;"><br>31 (17%)<br>54 (29%)<br>8 (4%)<br>23 (13%)<br>2 (1%)<br>17 (9%)<br>18 (10%)<br>3 (2%)<br>10 (5%)<br>3 (2%)<br>15 (8%)</div><div style="position:absolute;left:349.00px;top:296.90px;width:44.20px;height:14.80px;background:#e9edf4;box-shadow:inset -1px 0 0 rgba(255,255,255,0.6),inset 0 -1px 0 rgba(255,255,255,0.4);"></div><div style="position:absolute;left:351.20px;top:299.20px;font-size:4.55px;line-height:6.0px;color:#1e1e1e;font-weight:normal;white-space:nowrap;">Match related<br>donor, N (%)</div><div style="position:absolute;left:393.20px;top:296.90px;width:44.50px;height:14.80px;background:#e9edf4;box-shadow:inset -1px 0 0 rgba(255,255,255,0.6),inset 0 -1px 0 rgba(255,255,255,0.4);"></div><div style="position:absolute;left:395.40px;top:299.20px;font-size:4.55px;line-height:6.0px;color:#1e1e1e;font-weight:normal;white-space:nowrap;">85 (66%)</div><div style="position:absolute;left:437.70px;top:296.90px;width:44.50px;height:14.80px;background:#e9edf4;box-shadow:inset 0 -1px 0 rgba(255,255,255,0.4);"></div><div style="position:absolute;left:439.90px;top:299.20px;font-size:4.55px;line-height:6.0px;color:#1e1e1e;font-weight:normal;white-space:nowrap;">116 (63%)</div><div style="position:absolute;left:349.00px;top:311.70px;width:44.20px;height:7.80px;background:#d0d8e8;box-shadow:inset -1px 0 0 rgba(255,255,255,0.6),inset 0 -1px 0 rgba(255,255,255,0.4);"></div><div style="position:absolute;left:351.20px;top:314.00px;font-size:4.55px;line-height:6.0px;color:#1e1e1e;font-weight:normal;white-space:nowrap;">Skin-GVHD, N (%)</div><div style="position:absolute;left:393.20px;top:311.70px;width:44.50px;height:7.80px;background:#d0d8e8;box-shadow:inset -1px 0 0 rgba(255,255,255,0.6),inset 0 -1px 0 rgba(255,255,255,0.4);"></div><div style="position:absolute;left:395.40px;top:314.00px;font-size:4.55px;line-height:6.0px;color:#1e1e1e;font-weight:normal;white-space:nowrap;">69 (53%)</div><div style="position:absolute;left:437.70px;top:311.70px;width:44.50px;height:7.80px;background:#d0d8e8;box-shadow:inset 0 -1px 0 rgba(255,255,255,0.4);"></div><div style="position:absolute;left:439.90px;top:314.00px;font-size:4.55px;line-height:6.0px;color:#1e1e1e;font-weight:normal;white-space:nowrap;">40 (22%)</div><div style="position:absolute;left:349.00px;top:319.50px;width:44.20px;height:8.60px;background:#e9edf4;box-shadow:inset -1px 0 0 rgba(255,255,255,0.6),inset 0 -1px 0 rgba(255,255,255,0.4);"></div><div style="position:absolute;left:351.20px;top:321.80px;font-size:4.55px;line-height:6.0px;color:#1e1e1e;font-weight:normal;white-space:nowrap;">Liver-GVHD, N (%)</div><div style="position:absolute;left:393.20px;top:319.50px;width:44.50px;height:8.60px;background:#e9edf4;box-shadow:inset -1px 0 0 rgba(255,255,255,0.6),inset 0 -1px 0 rgba(255,255,255,0.4);"></div><div style="position:absolute;left:395.40px;top:321.80px;font-size:4.55px;line-height:6.0px;color:#1e1e1e;font-weight:normal;white-space:nowrap;">29 (22%)</div><div style="position:absolute;left:437.70px;top:319.50px;width:44.50px;height:8.60px;background:#e9edf4;box-shadow:inset 0 -1px 0 rgba(255,255,255,0.4);"></div><div style="position:absolute;left:439.90px;top:321.80px;font-size:4.55px;line-height:6.0px;color:#1e1e1e;font-weight:normal;white-space:nowrap;">5 (3%)</div><div style="position:absolute;left:349.00px;top:328.10px;width:44.20px;height:13.30px;background:#d0d8e8;box-shadow:inset -1px 0 0 rgba(255,255,255,0.6),inset 0 -1px 0 rgba(255,255,255,0.4);"></div><div style="position:absolute;left:351.20px;top:330.40px;font-size:4.55px;line-height:6.0px;color:#1e1e1e;font-weight:normal;white-space:nowrap;">Avg WBC thousand<br>(range)</div><div style="position:absolute;left:393.20px;top:328.10px;width:44.50px;height:13.30px;background:#d0d8e8;box-shadow:inset -1px 0 0 rgba(255,255,255,0.6),inset 0 -1px 0 rgba(255,255,255,0.4);"></div><div style="position:absolute;left:395.40px;top:330.40px;font-size:4.55px;line-height:6.0px;color:#1e1e1e;font-weight:normal;white-space:nowrap;">5.3 (0.1-27.3)</div><div style="position:absolute;left:437.70px;top:328.10px;width:44.50px;height:13.30px;background:#d0d8e8;box-shadow:inset 0 -1px 0 rgba(255,255,255,0.4);"></div><div style="position:absolute;left:439.90px;top:330.40px;font-size:4.55px;line-height:6.0px;color:#1e1e1e;font-weight:normal;white-space:nowrap;">4.5 (0-21.9)</div><div style="position:absolute;left:349.00px;top:341.40px;width:44.20px;height:7.80px;background:#e9edf4;box-shadow:inset -1px 0 0 rgba(255,255,255,0.6),inset 0 -1px 0 rgba(255,255,255,0.4);"></div><div style="position:absolute;left:351.20px;top:343.70px;font-size:4.55px;line-height:6.0px;color:#1e1e1e;font-weight:normal;white-space:nowrap;">Bacteremic cases</div><div style="position:absolute;left:393.20px;top:341.40px;width:44.50px;height:7.80px;background:#e9edf4;box-shadow:inset -1px 0 0 rgba(255,255,255,0.6),inset 0 -1px 0 rgba(255,255,255,0.4);"></div><div style="position:absolute;left:395.40px;top:343.70px;font-size:4.55px;line-height:6.0px;color:#1e1e1e;font-weight:normal;white-space:nowrap;">5 (4%)</div><div style="position:absolute;left:437.70px;top:341.40px;width:44.50px;height:7.80px;background:#e9edf4;box-shadow:inset 0 -1px 0 rgba(255,255,255,0.4);"></div><div style="position:absolute;left:439.90px;top:343.70px;font-size:4.55px;line-height:6.0px;color:#1e1e1e;font-weight:normal;white-space:nowrap;">8 (4%)</div>
<div class="t" style="top:358.40px;font-size:6.93px;line-height:8.3px;left:335.60px;">•</div>
<div class="t" style="top:358.40px;font-size:6.93px;line-height:8.3px;left:342.30px;">The GI-GVHD cases underwent 179 total<br>endoscopies including 49% single and 51%<br>bi-directional procedures.</div>
<div class="t" style="top:383.30px;font-size:6.93px;line-height:8.3px;left:335.60px;">•</div>
<div class="t" style="top:383.30px;font-size:6.93px;line-height:8.3px;left:342.30px;">The controls underwent 211 total endoscopies<br>including 72% single and 28% bi-directional<br>procedures.</div>
<div class="t" style="top:412.80px;font-size:7.77px;line-height:9.1px;left:311.90px;width:240px;text-align:center;font-weight:bold;color:#f2101e;">Does upper, lower or bi-directional endoscopy provide<br>the highest diagnostic yield?</div>
<div class="t" style="top:442.10px;font-size:6.93px;line-height:7.7px;left:338.70px;">•</div>
<div class="t" style="top:442.10px;font-size:6.93px;line-height:7.7px;left:344.00px;">Both colonoscopy alone (diagnostic yield 86%) and</div>
<div class="t" style="top:449.80px;font-size:6.93px;line-height:7.7px;left:343.30px;">bi-directional endoscopy (82%) provided the same yield<br>of positive histological results.</div>
<div class="t" style="top:480.20px;font-size:6.93px;line-height:8.2px;left:331.00px;width:200px;text-align:center;">Figure 2 Positive histological results for GI-GVHD<br>based on endoscopy procedure</div>
<div class="t" style="top:605.90px;font-size:7.77px;line-height:9px;left:324.60px;font-weight:bold;color:#f2101e;">What is the incidence of complications from bacteremia?</div>
<div class="t" style="top:623.60px;font-size:6.64px;line-height:8.0px;left:332.00px;">•<br>•</div>
<div class="t" style="top:623.60px;font-size:6.64px;line-height:8.0px;left:336.25px;">6 events (4%) bacteremia in 167 GI-GVHD patients who were non-neutropenic with ANC&gt;1.<br>1 event of bacteremia (8%) in 12 GI-GVHD patients who were neutropenic with one patient dying 8 days after endoscopy<br><span style="padding-left:1.4px">from acute GVHD.</span></div>
<div class="t" style="top:647.50px;font-size:6.64px;line-height:8.0px;left:332.00px;">•Among all cases and controls, there were 11 events of bacteremia (3%) in 364 patients who were non-neutropenic with<br><span style="padding-left:5.7px">ANC&gt;1 and 4 events of bacteremia in 26 patients who were neutropenic (15%), with 3 patients dying 8, 43 and 57 days</span><br><span style="padding-left:5.7px">after endoscopy with causes of death including acute GVHD and sepsis (p=0.01).</span><br>•17 patients died within 2 weeks after endoscopy, including one neutropenic patient with bacteremia and three non-<br><span style="padding-left:5.7px">neutropenic patients with bacteremia, with causes of death including acute GVHD, CMV and renal failure.</span></div>
<div class="t" style="top:143.00px;font-size:7.77px;line-height:9px;left:512.00px;width:240px;text-align:center;font-weight:bold;color:#f2101e;">Which sites are the most sensitive for GI-GVHD?</div>
<div class="t" style="top:162.00px;font-size:6.93px;line-height:8.4px;left:538.00px;">•</div>
<div class="t" style="top:162.00px;font-size:6.93px;line-height:8.4px;left:542.00px;">The terminal ileum had the highest sensitivity rate (79%)<br>and the esophagus had the lowest sensitivity rate (18%)<br>for testing positive in GI-GVHD cases.</div>
<div class="t" style="top:199.75px;font-size:6.93px;line-height:8.0px;left:512.10px;width:240px;text-align:center;">Figure 1 Sensitivity percentages of individual gut biopsy sites<br>for GI-GVHD</div>
<div class="t" style="top:143.70px;font-size:6.93px;line-height:8.5px;left:740.10px;width:200px;text-align:center;">Table 2 Effect of Gender on GVHD Outcomes</div>
<div class="wb" style="left:776px;top:155px;width:125.29999999999995px;height:176.60000000000002px"></div>
<div style="position:absolute;left:777.80px;top:157.20px;width:24.40px;height:8.20px;background:#4f81bd;box-shadow:inset -1px 0 0 rgba(255,255,255,0.5),inset 0 -1px 0 #fff;"></div><div style="position:absolute;left:777.80px;width:24.40px;text-align:center;top:159.20px;font-size:3.2px;line-height:4.2px;color:#fff;font-weight:bold;white-space:nowrap;">Gender</div><div style="position:absolute;left:802.20px;top:157.20px;width:39.40px;height:8.20px;background:#4f81bd;box-shadow:inset -1px 0 0 rgba(255,255,255,0.5),inset 0 -1px 0 #fff;"></div><div style="position:absolute;left:802.20px;width:39.40px;text-align:center;top:159.20px;font-size:3.2px;line-height:4.2px;color:#fff;font-weight:bold;white-space:nowrap;">GVHD Cases</div><div style="position:absolute;left:841.60px;top:157.20px;width:39.40px;height:8.20px;background:#4f81bd;box-shadow:inset -1px 0 0 rgba(255,255,255,0.5),inset 0 -1px 0 #fff;"></div><div style="position:absolute;left:841.60px;width:39.40px;text-align:center;top:159.20px;font-size:3.2px;line-height:4.2px;color:#fff;font-weight:bold;white-space:nowrap;">Controls</div><div style="position:absolute;left:881.00px;top:157.20px;width:18.30px;height:8.20px;background:#4f81bd;box-shadow:inset 0 -1px 0 #fff;"></div><div style="position:absolute;left:881.00px;width:18.30px;text-align:center;top:159.20px;font-size:3.2px;line-height:4.2px;color:#fff;font-weight:bold;white-space:nowrap;">p-value</div><div style="position:absolute;left:777.80px;top:165.40px;width:24.40px;height:8.20px;background:#d0d8e8;box-shadow:inset -1px 0 0 rgba(255,255,255,0.5),inset 0 -1px 0 rgba(255,255,255,0.4);"></div><div style="position:absolute;left:777.80px;width:24.40px;text-align:center;top:167.40px;font-size:3.2px;line-height:4.2px;color:#1e1e1e;font-weight:normal;white-space:nowrap;">Female</div><div style="position:absolute;left:802.20px;top:165.40px;width:39.40px;height:8.20px;background:#d0d8e8;box-shadow:inset -1px 0 0 rgba(255,255,255,0.5),inset 0 -1px 0 rgba(255,255,255,0.4);"></div><div style="position:absolute;left:802.20px;width:39.40px;text-align:center;top:167.40px;font-size:3.2px;line-height:4.2px;color:#1e1e1e;font-weight:normal;white-space:nowrap;">82</div><div style="position:absolute;left:841.60px;top:165.40px;width:39.40px;height:8.20px;background:#d0d8e8;box-shadow:inset -1px 0 0 rgba(255,255,255,0.5),inset 0 -1px 0 rgba(255,255,255,0.4);"></div><div style="position:absolute;left:841.60px;width:39.40px;text-align:center;top:167.40px;font-size:3.2px;line-height:4.2px;color:#1e1e1e;font-weight:normal;white-space:nowrap;">87</div><div style="position:absolute;left:881.00px;top:165.40px;width:18.30px;height:8.20px;background:#d0d8e8;box-shadow:inset 0 -1px 0 rgba(255,255,255,0.4);"></div><div style="position:absolute;left:881.00px;width:18.30px;text-align:center;top:167.40px;font-size:3.2px;line-height:4.2px;color:#1e1e1e;font-weight:normal;white-space:nowrap;">0.4</div><div style="position:absolute;left:777.80px;top:173.60px;width:24.40px;height:7.90px;background:#e9edf4;box-shadow:inset -1px 0 0 rgba(255,255,255,0.5),inset 0 -1px 0 rgba(255,255,255,0.4);"></div><div style="position:absolute;left:777.80px;width:24.40px;text-align:center;top:175.45px;font-size:3.2px;line-height:4.2px;color:#1e1e1e;font-weight:normal;white-space:nowrap;">Male</div><div style="position:absolute;left:802.20px;top:173.60px;width:39.40px;height:7.90px;background:#e9edf4;box-shadow:inset -1px 0 0 rgba(255,255,255,0.5),inset 0 -1px 0 rgba(255,255,255,0.4);"></div><div style="position:absolute;left:802.20px;width:39.40px;text-align:center;top:175.45px;font-size:3.2px;line-height:4.2px;color:#1e1e1e;font-weight:normal;white-space:nowrap;">97</div><div style="position:absolute;left:841.60px;top:173.60px;width:39.40px;height:7.90px;background:#e9edf4;box-shadow:inset -1px 0 0 rgba(255,255,255,0.5),inset 0 -1px 0 rgba(255,255,255,0.4);"></div><div style="position:absolute;left:841.60px;width:39.40px;text-align:center;top:175.45px;font-size:3.2px;line-height:4.2px;color:#1e1e1e;font-weight:normal;white-space:nowrap;">124</div><div style="position:absolute;left:881.00px;top:173.60px;width:18.30px;height:7.90px;background:#e9edf4;box-shadow:inset 0 -1px 0 rgba(255,255,255,0.4);"></div><div style="position:absolute;left:777.80px;top:181.50px;width:24.40px;height:7.60px;background:#d0d8e8;box-shadow:inset -1px 0 0 rgba(255,255,255,0.5),inset 0 -1px 0 rgba(255,255,255,0.4);"></div><div style="position:absolute;left:802.20px;top:181.50px;width:39.40px;height:7.60px;background:#d0d8e8;box-shadow:inset -1px 0 0 rgba(255,255,255,0.5),inset 0 -1px 0 rgba(255,255,255,0.4);"></div><div style="position:absolute;left:802.20px;width:39.40px;text-align:center;top:183.20px;font-size:3.2px;line-height:4.2px;color:#1e1e1e;font-weight:normal;white-space:nowrap;">GVHD, Alive</div><div style="position:absolute;left:841.60px;top:181.50px;width:39.40px;height:7.60px;background:#d0d8e8;box-shadow:inset -1px 0 0 rgba(255,255,255,0.5),inset 0 -1px 0 rgba(255,255,255,0.4);"></div><div style="position:absolute;left:841.60px;width:39.40px;text-align:center;top:183.20px;font-size:3.2px;line-height:4.2px;color:#1e1e1e;font-weight:normal;white-space:nowrap;">GVHD, Died</div><div style="position:absolute;left:881.00px;top:181.50px;width:18.30px;height:7.60px;background:#d0d8e8;box-shadow:inset 0 -1px 0 rgba(255,255,255,0.4);"></div><div style="position:absolute;left:777.80px;top:189.10px;width:24.40px;height:8.10px;background:#e9edf4;box-shadow:inset -1px 0 0 rgba(255,255,255,0.5),inset 0 -1px 0 rgba(255,255,255,0.4);"></div><div style="position:absolute;left:777.80px;width:24.40px;text-align:center;top:191.05px;font-size:3.2px;line-height:4.2px;color:#1e1e1e;font-weight:normal;white-space:nowrap;">Female</div><div style="position:absolute;left:802.20px;top:189.10px;width:39.40px;height:8.10px;background:#e9edf4;box-shadow:inset -1px 0 0 rgba(255,255,255,0.5),inset 0 -1px 0 rgba(255,255,255,0.4);"></div><div style="position:absolute;left:802.20px;width:39.40px;text-align:center;top:191.05px;font-size:3.2px;line-height:4.2px;color:#1e1e1e;font-weight:normal;white-space:nowrap;">32</div><div style="position:absolute;left:841.60px;top:189.10px;width:39.40px;height:8.10px;background:#e9edf4;box-shadow:inset -1px 0 0 rgba(255,255,255,0.5),inset 0 -1px 0 rgba(255,255,255,0.4);"></div><div style="position:absolute;left:841.60px;width:39.40px;text-align:center;top:191.05px;font-size:3.2px;line-height:4.2px;color:#1e1e1e;font-weight:normal;white-space:nowrap;">50</div><div style="position:absolute;left:881.00px;top:189.10px;width:18.30px;height:8.10px;background:#e9edf4;box-shadow:inset 0 -1px 0 rgba(255,255,255,0.4);"></div><div style="position:absolute;left:881.00px;width:18.30px;text-align:center;top:191.05px;font-size:3.2px;line-height:4.2px;color:#1e1e1e;font-weight:normal;white-space:nowrap;">0.001</div><div style="position:absolute;left:777.80px;top:197.20px;width:24.40px;height:8.10px;background:#d0d8e8;box-shadow:inset -1px 0 0 rgba(255,255,255,0.5),inset 0 -1px 0 rgba(255,255,255,0.4);"></div><div style="position:absolute;left:777.80px;width:24.40px;text-align:center;top:199.15px;font-size:3.2px;line-height:4.2px;color:#1e1e1e;font-weight:normal;white-space:nowrap;">Male</div><div style="position:absolute;left:802.20px;top:197.20px;width:39.40px;height:8.10px;background:#d0d8e8;box-shadow:inset -1px 0 0 rgba(255,255,255,0.5),inset 0 -1px 0 rgba(255,255,255,0.4);"></div><div style="position:absolute;left:802.20px;width:39.40px;text-align:center;top:199.15px;font-size:3.2px;line-height:4.2px;color:#1e1e1e;font-weight:normal;white-space:nowrap;">16</div><div style="position:absolute;left:841.60px;top:197.20px;width:39.40px;height:8.10px;background:#d0d8e8;box-shadow:inset -1px 0 0 rgba(255,255,255,0.5),inset 0 -1px 0 rgba(255,255,255,0.4);"></div><div style="position:absolute;left:841.60px;width:39.40px;text-align:center;top:199.15px;font-size:3.2px;line-height:4.2px;color:#1e1e1e;font-weight:normal;white-space:nowrap;">81</div><div style="position:absolute;left:881.00px;top:197.20px;width:18.30px;height:8.10px;background:#d0d8e8;box-shadow:inset 0 -1px 0 rgba(255,255,255,0.4);"></div><div style="position:absolute;left:777.80px;top:205.30px;width:24.40px;height:8.10px;background:#e9edf4;box-shadow:inset -1px 0 0 rgba(255,255,255,0.5),inset 0 -1px 0 rgba(255,255,255,0.4);"></div><div style="position:absolute;left:802.20px;top:205.30px;width:39.40px;height:8.10px;background:#e9edf4;box-shadow:inset -1px 0 0 rgba(255,255,255,0.5),inset 0 -1px 0 rgba(255,255,255,0.4);"></div><div style="position:absolute;left:802.20px;width:39.40px;text-align:center;top:207.25px;font-size:3.2px;line-height:4.2px;color:#1e1e1e;font-weight:normal;white-space:nowrap;">Died from GVHD</div><div style="position:absolute;left:841.60px;top:205.30px;width:39.40px;height:8.10px;background:#e9edf4;box-shadow:inset -1px 0 0 rgba(255,255,255,0.5),inset 0 -1px 0 rgba(255,255,255,0.4);"></div><div style="position:absolute;left:841.60px;width:39.40px;text-align:center;top:207.25px;font-size:3.2px;line-height:4.2px;color:#1e1e1e;font-weight:normal;white-space:nowrap;">Died from Other Causes</div><div style="position:absolute;left:881.00px;top:205.30px;width:18.30px;height:8.10px;background:#e9edf4;box-shadow:inset 0 -1px 0 rgba(255,255,255,0.4);"></div><div style="position:absolute;left:777.80px;top:213.40px;width:24.40px;height:8.10px;background:#d0d8e8;box-shadow:inset -1px 0 0 rgba(255,255,255,0.5),inset 0 -1px 0 rgba(255,255,255,0.4);"></div><div style="position:absolute;left:777.80px;width:24.40px;text-align:center;top:215.35px;font-size:3.2px;line-height:4.2px;color:#1e1e1e;font-weight:normal;white-space:nowrap;">Female</div><div style="position:absolute;left:802.20px;top:213.40px;width:39.40px;height:8.10px;background:#d0d8e8;box-shadow:inset -1px 0 0 rgba(255,255,255,0.5),inset 0 -1px 0 rgba(255,255,255,0.4);"></div><div style="position:absolute;left:802.20px;width:39.40px;text-align:center;top:215.35px;font-size:3.2px;line-height:4.2px;color:#1e1e1e;font-weight:normal;white-space:nowrap;">19</div><div style="position:absolute;left:841.60px;top:213.40px;width:39.40px;height:8.10px;background:#d0d8e8;box-shadow:inset -1px 0 0 rgba(255,255,255,0.5),inset 0 -1px 0 rgba(255,255,255,0.4);"></div><div style="position:absolute;left:841.60px;width:39.40px;text-align:center;top:215.35px;font-size:3.2px;line-height:4.2px;color:#1e1e1e;font-weight:normal;white-space:nowrap;">31</div><div style="position:absolute;left:881.00px;top:213.40px;width:18.30px;height:8.10px;background:#d0d8e8;box-shadow:inset 0 -1px 0 rgba(255,255,255,0.4);"></div><div style="position:absolute;left:881.00px;width:18.30px;text-align:center;top:215.35px;font-size:3.2px;line-height:4.2px;color:#1e1e1e;font-weight:normal;white-space:nowrap;">1.0</div><div style="position:absolute;left:777.80px;top:221.50px;width:24.40px;height:8.10px;background:#e9edf4;box-shadow:inset -1px 0 0 rgba(255,255,255,0.5),inset 0 -1px 0 rgba(255,255,255,0.4);"></div><div style="position:absolute;left:777.80px;width:24.40px;text-align:center;top:223.45px;font-size:3.2px;line-height:4.2px;color:#1e1e1e;font-weight:normal;white-space:nowrap;">Male</div><div style="position:absolute;left:802.20px;top:221.50px;width:39.40px;height:8.10px;background:#e9edf4;box-shadow:inset -1px 0 0 rgba(255,255,255,0.5),inset 0 -1px 0 rgba(255,255,255,0.4);"></div><div style="position:absolute;left:802.20px;width:39.40px;text-align:center;top:223.45px;font-size:3.2px;line-height:4.2px;color:#1e1e1e;font-weight:normal;white-space:nowrap;">32</div><div style="position:absolute;left:841.60px;top:221.50px;width:39.40px;height:8.10px;background:#e9edf4;box-shadow:inset -1px 0 0 rgba(255,255,255,0.5),inset 0 -1px 0 rgba(255,255,255,0.4);"></div><div style="position:absolute;left:841.60px;width:39.40px;text-align:center;top:223.45px;font-size:3.2px;line-height:4.2px;color:#1e1e1e;font-weight:normal;white-space:nowrap;">49</div><div style="position:absolute;left:881.00px;top:221.50px;width:18.30px;height:8.10px;background:#e9edf4;box-shadow:inset 0 -1px 0 rgba(255,255,255,0.4);"></div><div style="position:absolute;left:777.80px;top:229.60px;width:24.40px;height:8.10px;background:#d0d8e8;box-shadow:inset -1px 0 0 rgba(255,255,255,0.5),inset 0 -1px 0 rgba(255,255,255,0.4);"></div><div style="position:absolute;left:802.20px;top:229.60px;width:39.40px;height:8.10px;background:#d0d8e8;box-shadow:inset -1px 0 0 rgba(255,255,255,0.5),inset 0 -1px 0 rgba(255,255,255,0.4);"></div><div style="position:absolute;left:802.20px;width:39.40px;text-align:center;top:231.55px;font-size:3.2px;line-height:4.2px;color:#1e1e1e;font-weight:normal;white-space:nowrap;">GVHD Clinical Grade 1-2</div><div style="position:absolute;left:841.60px;top:229.60px;width:39.40px;height:8.10px;background:#d0d8e8;box-shadow:inset -1px 0 0 rgba(255,255,255,0.5),inset 0 -1px 0 rgba(255,255,255,0.4);"></div><div style="position:absolute;left:841.60px;width:39.40px;text-align:center;top:231.55px;font-size:3.2px;line-height:4.2px;color:#1e1e1e;font-weight:normal;white-space:nowrap;">GVHD Clinical Grade 3-4</div><div style="position:absolute;left:881.00px;top:229.60px;width:18.30px;height:8.10px;background:#d0d8e8;box-shadow:inset 0 -1px 0 rgba(255,255,255,0.4);"></div><div style="position:absolute;left:777.80px;top:237.70px;width:24.40px;height:8.10px;background:#e9edf4;box-shadow:inset -1px 0 0 rgba(255,255,255,0.5),inset 0 -1px 0 rgba(255,255,255,0.4);"></div><div style="position:absolute;left:777.80px;width:24.40px;text-align:center;top:239.65px;font-size:3.2px;line-height:4.2px;color:#1e1e1e;font-weight:normal;white-space:nowrap;">Female</div><div style="position:absolute;left:802.20px;top:237.70px;width:39.40px;height:8.10px;background:#e9edf4;box-shadow:inset -1px 0 0 rgba(255,255,255,0.5),inset 0 -1px 0 rgba(255,255,255,0.4);"></div><div style="position:absolute;left:802.20px;width:39.40px;text-align:center;top:239.65px;font-size:3.2px;line-height:4.2px;color:#1e1e1e;font-weight:normal;white-space:nowrap;">25</div><div style="position:absolute;left:841.60px;top:237.70px;width:39.40px;height:8.10px;background:#e9edf4;box-shadow:inset -1px 0 0 rgba(255,255,255,0.5),inset 0 -1px 0 rgba(255,255,255,0.4);"></div><div style="position:absolute;left:841.60px;width:39.40px;text-align:center;top:239.65px;font-size:3.2px;line-height:4.2px;color:#1e1e1e;font-weight:normal;white-space:nowrap;">57</div><div style="position:absolute;left:881.00px;top:237.70px;width:18.30px;height:8.10px;background:#e9edf4;box-shadow:inset 0 -1px 0 rgba(255,255,255,0.4);"></div><div style="position:absolute;left:881.00px;width:18.30px;text-align:center;top:239.65px;font-size:3.2px;line-height:4.2px;color:#1e1e1e;font-weight:normal;white-space:nowrap;">0.3</div><div style="position:absolute;left:777.80px;top:245.80px;width:24.40px;height:8.10px;background:#d0d8e8;box-shadow:inset -1px 0 0 rgba(255,255,255,0.5),inset 0 -1px 0 rgba(255,255,255,0.4);"></div><div style="position:absolute;left:777.80px;width:24.40px;text-align:center;top:247.75px;font-size:3.2px;line-height:4.2px;color:#1e1e1e;font-weight:normal;white-space:nowrap;">Male</div><div style="position:absolute;left:802.20px;top:245.80px;width:39.40px;height:8.10px;background:#d0d8e8;box-shadow:inset -1px 0 0 rgba(255,255,255,0.5),inset 0 -1px 0 rgba(255,255,255,0.4);"></div><div style="position:absolute;left:802.20px;width:39.40px;text-align:center;top:247.75px;font-size:3.2px;line-height:4.2px;color:#1e1e1e;font-weight:normal;white-space:nowrap;">28</div><div style="position:absolute;left:841.60px;top:245.80px;width:39.40px;height:8.10px;background:#d0d8e8;box-shadow:inset -1px 0 0 rgba(255,255,255,0.5),inset 0 -1px 0 rgba(255,255,255,0.4);"></div><div style="position:absolute;left:841.60px;width:39.40px;text-align:center;top:247.75px;font-size:3.2px;line-height:4.2px;color:#1e1e1e;font-weight:normal;white-space:nowrap;">69</div><div style="position:absolute;left:881.00px;top:245.80px;width:18.30px;height:8.10px;background:#d0d8e8;box-shadow:inset 0 -1px 0 rgba(255,255,255,0.4);"></div><div style="position:absolute;left:777.80px;top:253.90px;width:24.40px;height:10.10px;background:#e9edf4;box-shadow:inset -1px 0 0 rgba(255,255,255,0.5),inset 0 -1px 0 rgba(255,255,255,0.4);"></div><div style="position:absolute;left:802.20px;top:253.90px;width:39.40px;height:10.10px;background:#e9edf4;box-shadow:inset -1px 0 0 rgba(255,255,255,0.5),inset 0 -1px 0 rgba(255,255,255,0.4);"></div><div style="position:absolute;left:802.20px;width:39.40px;text-align:center;top:254.75px;font-size:3.2px;line-height:4.2px;color:#1e1e1e;font-weight:normal;white-space:nowrap;">Cases, LGI Histological<br>Grades 0-2</div><div style="position:absolute;left:841.60px;top:253.90px;width:39.40px;height:10.10px;background:#e9edf4;box-shadow:inset -1px 0 0 rgba(255,255,255,0.5),inset 0 -1px 0 rgba(255,255,255,0.4);"></div><div style="position:absolute;left:841.60px;width:39.40px;text-align:center;top:254.75px;font-size:3.2px;line-height:4.2px;color:#1e1e1e;font-weight:normal;white-space:nowrap;">Cases, LGI Histological<br>Grades 3-4</div><div style="position:absolute;left:881.00px;top:253.90px;width:18.30px;height:10.10px;background:#e9edf4;box-shadow:inset 0 -1px 0 rgba(255,255,255,0.4);"></div><div style="position:absolute;left:777.80px;top:264.00px;width:24.40px;height:8.00px;background:#d0d8e8;box-shadow:inset -1px 0 0 rgba(255,255,255,0.5),inset 0 -1px 0 rgba(255,255,255,0.4);"></div><div style="position:absolute;left:777.80px;width:24.40px;text-align:center;top:265.90px;font-size:3.2px;line-height:4.2px;color:#1e1e1e;font-weight:normal;white-space:nowrap;">Female</div><div style="position:absolute;left:802.20px;top:264.00px;width:39.40px;height:8.00px;background:#d0d8e8;box-shadow:inset -1px 0 0 rgba(255,255,255,0.5),inset 0 -1px 0 rgba(255,255,255,0.4);"></div><div style="position:absolute;left:802.20px;width:39.40px;text-align:center;top:265.90px;font-size:3.2px;line-height:4.2px;color:#1e1e1e;font-weight:normal;white-space:nowrap;">41</div><div style="position:absolute;left:841.60px;top:264.00px;width:39.40px;height:8.00px;background:#d0d8e8;box-shadow:inset -1px 0 0 rgba(255,255,255,0.5),inset 0 -1px 0 rgba(255,255,255,0.4);"></div><div style="position:absolute;left:841.60px;width:39.40px;text-align:center;top:265.90px;font-size:3.2px;line-height:4.2px;color:#1e1e1e;font-weight:normal;white-space:nowrap;">13</div><div style="position:absolute;left:881.00px;top:264.00px;width:18.30px;height:8.00px;background:#d0d8e8;box-shadow:inset 0 -1px 0 rgba(255,255,255,0.4);"></div><div style="position:absolute;left:777.80px;top:272.00px;width:24.40px;height:8.10px;background:#e9edf4;box-shadow:inset -1px 0 0 rgba(255,255,255,0.5),inset 0 -1px 0 rgba(255,255,255,0.4);"></div><div style="position:absolute;left:777.80px;width:24.40px;text-align:center;top:273.95px;font-size:3.2px;line-height:4.2px;color:#1e1e1e;font-weight:normal;white-space:nowrap;">Male</div><div style="position:absolute;left:802.20px;top:272.00px;width:39.40px;height:8.10px;background:#e9edf4;box-shadow:inset -1px 0 0 rgba(255,255,255,0.5),inset 0 -1px 0 rgba(255,255,255,0.4);"></div><div style="position:absolute;left:802.20px;width:39.40px;text-align:center;top:273.95px;font-size:3.2px;line-height:4.2px;color:#1e1e1e;font-weight:normal;white-space:nowrap;">50</div><div style="position:absolute;left:841.60px;top:272.00px;width:39.40px;height:8.10px;background:#e9edf4;box-shadow:inset -1px 0 0 rgba(255,255,255,0.5),inset 0 -1px 0 rgba(255,255,255,0.4);"></div><div style="position:absolute;left:841.60px;width:39.40px;text-align:center;top:273.95px;font-size:3.2px;line-height:4.2px;color:#1e1e1e;font-weight:normal;white-space:nowrap;">11</div><div style="position:absolute;left:881.00px;top:272.00px;width:18.30px;height:8.10px;background:#e9edf4;box-shadow:inset 0 -1px 0 rgba(255,255,255,0.4);"></div><div style="position:absolute;left:881.00px;width:18.30px;text-align:center;top:273.95px;font-size:3.2px;line-height:4.2px;color:#1e1e1e;font-weight:normal;white-space:nowrap;">0.3</div><div style="position:absolute;left:777.80px;top:280.10px;width:24.40px;height:9.40px;background:#d0d8e8;box-shadow:inset -1px 0 0 rgba(255,255,255,0.5),inset 0 -1px 0 rgba(255,255,255,0.4);"></div><div style="position:absolute;left:802.20px;top:280.10px;width:39.40px;height:9.40px;background:#d0d8e8;box-shadow:inset -1px 0 0 rgba(255,255,255,0.5),inset 0 -1px 0 rgba(255,255,255,0.4);"></div><div style="position:absolute;left:802.20px;width:39.40px;text-align:center;top:280.60px;font-size:3.2px;line-height:4.2px;color:#1e1e1e;font-weight:normal;white-space:nowrap;">Cases, UGI Histological<br>Grades 0-2</div><div style="position:absolute;left:841.60px;top:280.10px;width:39.40px;height:9.40px;background:#d0d8e8;box-shadow:inset -1px 0 0 rgba(255,255,255,0.5),inset 0 -1px 0 rgba(255,255,255,0.4);"></div><div style="position:absolute;left:841.60px;width:39.40px;text-align:center;top:280.60px;font-size:3.2px;line-height:4.2px;color:#1e1e1e;font-weight:normal;white-space:nowrap;">Cases, UGI Histological<br>Grades 3-4</div><div style="position:absolute;left:881.00px;top:280.10px;width:18.30px;height:9.40px;background:#d0d8e8;box-shadow:inset 0 -1px 0 rgba(255,255,255,0.4);"></div><div style="position:absolute;left:777.80px;top:289.50px;width:24.40px;height:8.10px;background:#e9edf4;box-shadow:inset -1px 0 0 rgba(255,255,255,0.5),inset 0 -1px 0 rgba(255,255,255,0.4);"></div><div style="position:absolute;left:777.80px;width:24.40px;text-align:center;top:291.45px;font-size:3.2px;line-height:4.2px;color:#1e1e1e;font-weight:normal;white-space:nowrap;">Female</div><div style="position:absolute;left:802.20px;top:289.50px;width:39.40px;height:8.10px;background:#e9edf4;box-shadow:inset -1px 0 0 rgba(255,255,255,0.5),inset 0 -1px 0 rgba(255,255,255,0.4);"></div><div style="position:absolute;left:802.20px;width:39.40px;text-align:center;top:291.45px;font-size:3.2px;line-height:4.2px;color:#1e1e1e;font-weight:normal;white-space:nowrap;">45</div><div style="position:absolute;left:841.60px;top:289.50px;width:39.40px;height:8.10px;background:#e9edf4;box-shadow:inset -1px 0 0 rgba(255,255,255,0.5),inset 0 -1px 0 rgba(255,255,255,0.4);"></div><div style="position:absolute;left:841.60px;width:39.40px;text-align:center;top:291.45px;font-size:3.2px;line-height:4.2px;color:#1e1e1e;font-weight:normal;white-space:nowrap;">23</div><div style="position:absolute;left:881.00px;top:289.50px;width:18.30px;height:8.10px;background:#e9edf4;box-shadow:inset 0 -1px 0 rgba(255,255,255,0.4);"></div><div style="position:absolute;left:777.80px;top:297.60px;width:24.40px;height:8.40px;background:#d0d8e8;box-shadow:inset -1px 0 0 rgba(255,255,255,0.5),inset 0 -1px 0 rgba(255,255,255,0.4);"></div><div style="position:absolute;left:777.80px;width:24.40px;text-align:center;top:299.70px;font-size:3.2px;line-height:4.2px;color:#1e1e1e;font-weight:normal;white-space:nowrap;">Male</div><div style="position:absolute;left:802.20px;top:297.60px;width:39.40px;height:8.40px;background:#d0d8e8;box-shadow:inset -1px 0 0 rgba(255,255,255,0.5),inset 0 -1px 0 rgba(255,255,255,0.4);"></div><div style="position:absolute;left:802.20px;width:39.40px;text-align:center;top:299.70px;font-size:3.2px;line-height:4.2px;color:#1e1e1e;font-weight:normal;white-space:nowrap;">46</div><div style="position:absolute;left:841.60px;top:297.60px;width:39.40px;height:8.40px;background:#d0d8e8;box-shadow:inset -1px 0 0 rgba(255,255,255,0.5),inset 0 -1px 0 rgba(255,255,255,0.4);"></div><div style="position:absolute;left:841.60px;width:39.40px;text-align:center;top:299.70px;font-size:3.2px;line-height:4.2px;color:#1e1e1e;font-weight:normal;white-space:nowrap;">34</div><div style="position:absolute;left:881.00px;top:297.60px;width:18.30px;height:8.40px;background:#d0d8e8;box-shadow:inset 0 -1px 0 rgba(255,255,255,0.4);"></div><div style="position:absolute;left:881.00px;width:18.30px;text-align:center;top:299.70px;font-size:3.2px;line-height:4.2px;color:#1e1e1e;font-weight:normal;white-space:nowrap;">0.3</div><div style="position:absolute;left:777.80px;top:306.00px;width:24.40px;height:7.80px;background:#e9edf4;box-shadow:inset -1px 0 0 rgba(255,255,255,0.5),inset 0 -1px 0 rgba(255,255,255,0.4);"></div><div style="position:absolute;left:802.20px;top:306.00px;width:39.40px;height:7.80px;background:#e9edf4;box-shadow:inset -1px 0 0 rgba(255,255,255,0.5),inset 0 -1px 0 rgba(255,255,255,0.4);"></div><div style="position:absolute;left:802.20px;width:39.40px;text-align:center;top:307.80px;font-size:3.2px;line-height:4.2px;color:#1e1e1e;font-weight:normal;white-space:nowrap;">GVHD Cases, Diarrhea</div><div style="position:absolute;left:841.60px;top:306.00px;width:39.40px;height:7.80px;background:#e9edf4;box-shadow:inset -1px 0 0 rgba(255,255,255,0.5),inset 0 -1px 0 rgba(255,255,255,0.4);"></div><div style="position:absolute;left:841.60px;width:39.40px;text-align:center;top:307.80px;font-size:3.2px;line-height:4.2px;color:#1e1e1e;font-weight:normal;white-space:nowrap;">Controls, Diarrhea</div><div style="position:absolute;left:881.00px;top:306.00px;width:18.30px;height:7.80px;background:#e9edf4;box-shadow:inset 0 -1px 0 rgba(255,255,255,0.4);"></div><div style="position:absolute;left:777.80px;top:313.80px;width:24.40px;height:8.10px;background:#d0d8e8;box-shadow:inset -1px 0 0 rgba(255,255,255,0.5),inset 0 -1px 0 rgba(255,255,255,0.4);"></div><div style="position:absolute;left:777.80px;width:24.40px;text-align:center;top:315.75px;font-size:3.2px;line-height:4.2px;color:#1e1e1e;font-weight:normal;white-space:nowrap;">Female</div><div style="position:absolute;left:802.20px;top:313.80px;width:39.40px;height:8.10px;background:#d0d8e8;box-shadow:inset -1px 0 0 rgba(255,255,255,0.5),inset 0 -1px 0 rgba(255,255,255,0.4);"></div><div style="position:absolute;left:802.20px;width:39.40px;text-align:center;top:315.75px;font-size:3.2px;line-height:4.2px;color:#1e1e1e;font-weight:normal;white-space:nowrap;">61</div><div style="position:absolute;left:841.60px;top:313.80px;width:39.40px;height:8.10px;background:#d0d8e8;box-shadow:inset -1px 0 0 rgba(255,255,255,0.5),inset 0 -1px 0 rgba(255,255,255,0.4);"></div><div style="position:absolute;left:841.60px;width:39.40px;text-align:center;top:315.75px;font-size:3.2px;line-height:4.2px;color:#1e1e1e;font-weight:normal;white-space:nowrap;">42</div><div style="position:absolute;left:881.00px;top:313.80px;width:18.30px;height:8.10px;background:#d0d8e8;box-shadow:inset 0 -1px 0 rgba(255,255,255,0.4);"></div><div style="position:absolute;left:777.80px;top:321.90px;width:24.40px;height:7.80px;background:#e9edf4;box-shadow:inset -1px 0 0 rgba(255,255,255,0.5),inset 0 -1px 0 rgba(255,255,255,0.4);"></div><div style="position:absolute;left:777.80px;width:24.40px;text-align:center;top:323.70px;font-size:3.2px;line-height:4.2px;color:#1e1e1e;font-weight:normal;white-space:nowrap;">Male</div><div style="position:absolute;left:802.20px;top:321.90px;width:39.40px;height:7.80px;background:#e9edf4;box-shadow:inset -1px 0 0 rgba(255,255,255,0.5),inset 0 -1px 0 rgba(255,255,255,0.4);"></div><div style="position:absolute;left:802.20px;width:39.40px;text-align:center;top:323.70px;font-size:3.2px;line-height:4.2px;color:#1e1e1e;font-weight:normal;white-space:nowrap;">74</div><div style="position:absolute;left:841.60px;top:321.90px;width:39.40px;height:7.80px;background:#e9edf4;box-shadow:inset -1px 0 0 rgba(255,255,255,0.5),inset 0 -1px 0 rgba(255,255,255,0.4);"></div><div style="position:absolute;left:841.60px;width:39.40px;text-align:center;top:323.70px;font-size:3.2px;line-height:4.2px;color:#1e1e1e;font-weight:normal;white-space:nowrap;">38</div><div style="position:absolute;left:881.00px;top:321.90px;width:18.30px;height:7.80px;background:#e9edf4;box-shadow:inset 0 -1px 0 rgba(255,255,255,0.4);"></div><div style="position:absolute;left:881.00px;width:18.30px;text-align:center;top:323.70px;font-size:3.2px;line-height:4.2px;color:#1e1e1e;font-weight:normal;white-space:nowrap;">0.3</div>
<div class="t" style="top:340.20px;font-size:6.93px;line-height:8.3px;left:761.00px;">•</div>
<div class="t" style="top:340.20px;font-size:6.93px;line-height:8.3px;left:766.40px;">Among all the endoscopy encounters, women<br>with GVHD had lower mortality rates by study<br>endpoint (61% versus 84%, p=0.0012) with<br>similar GVHD clinical and histological grades and<br>presentation of diarrhea.</div>
<div class="t" style="top:397.70px;font-size:7.77px;line-height:9px;left:620.50px;font-weight:bold;color:#f2101e;">Do symptoms dictate upper, lower, or bi-directional endoscopy?</div>
<div class="t" style="top:413.70px;font-size:6.93px;line-height:8.3px;left:618.60px;">•</div>
<div class="t" style="top:413.70px;font-size:6.93px;line-height:8.3px;left:625.70px;">Symptoms prompting endoscopic evaluation included diarrhea (present in 75% of cases and<br>38% of controls, p&lt;0.0001), as well as anorexia, nausea, vomiting, dysphagia, abdominal<br>pain, and gastrointestinal bleeding.</div>
<div class="t" style="top:438.60px;font-size:6.93px;line-height:8.3px;left:618.60px;">•</div>
<div class="t" style="top:438.60px;font-size:6.93px;line-height:8.3px;left:625.70px;">For nausea/vomiting, bi-directional endoscopy was positive for GI-GVHD 86% of the time<br>(48/56), which was higher than single endoscopy yields (59%, 17/29). (p=0.008)</div>
<div class="t" style="top:455.20px;font-size:6.93px;line-height:8.3px;left:618.60px;">•</div>
<div class="t" style="top:455.20px;font-size:6.93px;line-height:8.3px;left:625.70px;">For diarrhea, bi-directional endoscopy was positive for GI-GVHD 86% of the time (69/80),<br>comparable to lower endoscopy alone (86%, 43/50)</div>
<div class="t" style="top:486.60px;font-size:6.93px;line-height:8.4px;left:578.50px;width:200px;text-align:center;">Table 3 Patient symptoms based on<br>endoscopy encounters</div>
<div class="wb" style="left:613.2px;top:504.9px;width:136.5px;height:105.0px"></div>
<div style="position:absolute;left:614.80px;top:507.20px;width:44.50px;height:13.20px;background:#4f81bd;box-shadow:inset -1px 0 0 rgba(255,255,255,0.6),inset 0 -1px 0 #fff;"></div><div style="position:absolute;left:617.00px;top:509.30px;font-size:4.55px;line-height:6.0px;color:#fff;font-weight:bold;white-space:nowrap;">Characteristic</div><div style="position:absolute;left:659.30px;top:507.20px;width:44.30px;height:13.20px;background:#4f81bd;box-shadow:inset -1px 0 0 rgba(255,255,255,0.6),inset 0 -1px 0 #fff;"></div><div style="position:absolute;left:661.50px;top:509.30px;font-size:4.55px;line-height:6.0px;color:#fff;font-weight:bold;white-space:nowrap;">Cases<br>GI-GVHD +</div><div style="position:absolute;left:703.60px;top:507.20px;width:44.10px;height:13.20px;background:#4f81bd;box-shadow:inset 0 -1px 0 #fff;"></div><div style="position:absolute;left:705.80px;top:509.30px;font-size:4.55px;line-height:6.0px;color:#fff;font-weight:bold;white-space:nowrap;">Controls<br>GI-GVHD -</div><div style="position:absolute;left:614.80px;top:520.40px;width:44.50px;height:8.80px;background:#d0d8e8;box-shadow:inset -1px 0 0 rgba(255,255,255,0.6),inset 0 -1px 0 rgba(255,255,255,0.4);"></div><div style="position:absolute;left:617.00px;top:522.60px;font-size:4.55px;line-height:6.0px;color:#1e1e1e;font-weight:normal;white-space:nowrap;">Total endoscopies</div><div style="position:absolute;left:659.30px;top:520.40px;width:44.30px;height:8.80px;background:#d0d8e8;box-shadow:inset -1px 0 0 rgba(255,255,255,0.6),inset 0 -1px 0 rgba(255,255,255,0.4);"></div><div style="position:absolute;left:661.50px;top:522.60px;font-size:4.55px;line-height:6.0px;color:#1e1e1e;font-weight:normal;white-space:nowrap;">179</div><div style="position:absolute;left:703.60px;top:520.40px;width:44.10px;height:8.80px;background:#d0d8e8;box-shadow:inset 0 -1px 0 rgba(255,255,255,0.4);"></div><div style="position:absolute;left:705.80px;top:522.60px;font-size:4.55px;line-height:6.0px;color:#1e1e1e;font-weight:normal;white-space:nowrap;">211</div><div style="position:absolute;left:614.80px;top:529.20px;width:44.50px;height:8.10px;background:#e9edf4;box-shadow:inset -1px 0 0 rgba(255,255,255,0.6),inset 0 -1px 0 rgba(255,255,255,0.4);"></div><div style="position:absolute;left:617.00px;top:531.40px;font-size:4.55px;line-height:6.0px;color:#1e1e1e;font-weight:normal;white-space:nowrap;">Anorexia</div><div style="position:absolute;left:659.30px;top:529.20px;width:44.30px;height:8.10px;background:#e9edf4;box-shadow:inset -1px 0 0 rgba(255,255,255,0.6),inset 0 -1px 0 rgba(255,255,255,0.4);"></div><div style="position:absolute;left:661.50px;top:531.40px;font-size:4.55px;line-height:6.0px;color:#1e1e1e;font-weight:normal;white-space:nowrap;">16 (9%)</div><div style="position:absolute;left:703.60px;top:529.20px;width:44.10px;height:8.10px;background:#e9edf4;box-shadow:inset 0 -1px 0 rgba(255,255,255,0.4);"></div><div style="position:absolute;left:705.80px;top:531.40px;font-size:4.55px;line-height:6.0px;color:#1e1e1e;font-weight:normal;white-space:nowrap;">16 (8%)</div><div style="position:absolute;left:614.80px;top:537.30px;width:44.50px;height:13.70px;background:#d0d8e8;box-shadow:inset -1px 0 0 rgba(255,255,255,0.6),inset 0 -1px 0 rgba(255,255,255,0.4);"></div><div style="position:absolute;left:617.00px;top:539.50px;font-size:4.55px;line-height:6.0px;color:#1e1e1e;font-weight:normal;white-space:nowrap;">Nausea and/or<br>vomiting</div><div style="position:absolute;left:659.30px;top:537.30px;width:44.30px;height:13.70px;background:#d0d8e8;box-shadow:inset -1px 0 0 rgba(255,255,255,0.6),inset 0 -1px 0 rgba(255,255,255,0.4);"></div><div style="position:absolute;left:661.50px;top:539.50px;font-size:4.55px;line-height:6.0px;color:#1e1e1e;font-weight:normal;white-space:nowrap;">92 (47%)</div><div style="position:absolute;left:703.60px;top:537.30px;width:44.10px;height:13.70px;background:#d0d8e8;box-shadow:inset 0 -1px 0 rgba(255,255,255,0.4);"></div><div style="position:absolute;left:705.80px;top:539.50px;font-size:4.55px;line-height:6.0px;color:#1e1e1e;font-weight:normal;white-space:nowrap;">129 (61%)</div><div style="position:absolute;left:614.80px;top:551.00px;width:44.50px;height:8.30px;background:#e9edf4;box-shadow:inset -1px 0 0 rgba(255,255,255,0.6),inset 0 -1px 0 rgba(255,255,255,0.4);"></div><div style="position:absolute;left:617.00px;top:553.20px;font-size:4.55px;line-height:6.0px;color:#1e1e1e;font-weight:normal;white-space:nowrap;">Upper abd pain</div><div style="position:absolute;left:659.30px;top:551.00px;width:44.30px;height:8.30px;background:#e9edf4;box-shadow:inset -1px 0 0 rgba(255,255,255,0.6),inset 0 -1px 0 rgba(255,255,255,0.4);"></div><div style="position:absolute;left:661.50px;top:553.20px;font-size:4.55px;line-height:6.0px;color:#1e1e1e;font-weight:normal;white-space:nowrap;">47 (26%)</div><div style="position:absolute;left:703.60px;top:551.00px;width:44.10px;height:8.30px;background:#e9edf4;box-shadow:inset 0 -1px 0 rgba(255,255,255,0.4);"></div><div style="position:absolute;left:705.80px;top:553.20px;font-size:4.55px;line-height:6.0px;color:#1e1e1e;font-weight:normal;white-space:nowrap;">39 (18%)</div><div style="position:absolute;left:614.80px;top:559.30px;width:44.50px;height:8.20px;background:#d0d8e8;box-shadow:inset -1px 0 0 rgba(255,255,255,0.6),inset 0 -1px 0 rgba(255,255,255,0.4);"></div><div style="position:absolute;left:617.00px;top:561.50px;font-size:4.55px;line-height:6.0px;color:#1e1e1e;font-weight:normal;white-space:nowrap;">Lower abd pain</div><div style="position:absolute;left:659.30px;top:559.30px;width:44.30px;height:8.20px;background:#d0d8e8;box-shadow:inset -1px 0 0 rgba(255,255,255,0.6),inset 0 -1px 0 rgba(255,255,255,0.4);"></div><div style="position:absolute;left:661.50px;top:561.50px;font-size:4.55px;line-height:6.0px;color:#1e1e1e;font-weight:normal;white-space:nowrap;">45 (25%)</div><div style="position:absolute;left:703.60px;top:559.30px;width:44.10px;height:8.20px;background:#d0d8e8;box-shadow:inset 0 -1px 0 rgba(255,255,255,0.4);"></div><div style="position:absolute;left:705.80px;top:561.50px;font-size:4.55px;line-height:6.0px;color:#1e1e1e;font-weight:normal;white-space:nowrap;">29 (14%)</div><div style="position:absolute;left:614.80px;top:567.50px;width:44.50px;height:8.10px;background:#e9edf4;box-shadow:inset -1px 0 0 rgba(255,255,255,0.6),inset 0 -1px 0 rgba(255,255,255,0.4);"></div><div style="position:absolute;left:617.00px;top:569.70px;font-size:4.55px;line-height:6.0px;color:#1e1e1e;font-weight:normal;white-space:nowrap;">Diarrhea</div><div style="position:absolute;left:659.30px;top:567.50px;width:44.30px;height:8.10px;background:#e9edf4;box-shadow:inset -1px 0 0 rgba(255,255,255,0.6),inset 0 -1px 0 rgba(255,255,255,0.4);"></div><div style="position:absolute;left:661.50px;top:569.70px;font-size:4.55px;line-height:6.0px;color:#1e1e1e;font-weight:normal;white-space:nowrap;">135 (75%)</div><div style="position:absolute;left:703.60px;top:567.50px;width:44.10px;height:8.10px;background:#e9edf4;box-shadow:inset 0 -1px 0 rgba(255,255,255,0.4);"></div><div style="position:absolute;left:705.80px;top:569.70px;font-size:4.55px;line-height:6.0px;color:#1e1e1e;font-weight:normal;white-space:nowrap;">80 (38%)</div><div style="position:absolute;left:614.80px;top:575.60px;width:44.50px;height:8.40px;background:#d0d8e8;box-shadow:inset -1px 0 0 rgba(255,255,255,0.6),inset 0 -1px 0 rgba(255,255,255,0.4);"></div><div style="position:absolute;left:617.00px;top:577.80px;font-size:4.55px;line-height:6.0px;color:#1e1e1e;font-weight:normal;white-space:nowrap;">Hematochezia</div><div style="position:absolute;left:659.30px;top:575.60px;width:44.30px;height:8.40px;background:#d0d8e8;box-shadow:inset -1px 0 0 rgba(255,255,255,0.6),inset 0 -1px 0 rgba(255,255,255,0.4);"></div><div style="position:absolute;left:661.50px;top:577.80px;font-size:4.55px;line-height:6.0px;color:#1e1e1e;font-weight:normal;white-space:nowrap;">16 (9%)</div><div style="position:absolute;left:703.60px;top:575.60px;width:44.10px;height:8.40px;background:#d0d8e8;box-shadow:inset 0 -1px 0 rgba(255,255,255,0.4);"></div><div style="position:absolute;left:705.80px;top:577.80px;font-size:4.55px;line-height:6.0px;color:#1e1e1e;font-weight:normal;white-space:nowrap;">10 (5%)</div><div style="position:absolute;left:614.80px;top:584.00px;width:44.50px;height:8.20px;background:#e9edf4;box-shadow:inset -1px 0 0 rgba(255,255,255,0.6),inset 0 -1px 0 rgba(255,255,255,0.4);"></div><div style="position:absolute;left:617.00px;top:586.20px;font-size:4.55px;line-height:6.0px;color:#1e1e1e;font-weight:normal;white-space:nowrap;">Melena</div><div style="position:absolute;left:659.30px;top:584.00px;width:44.30px;height:8.20px;background:#e9edf4;box-shadow:inset -1px 0 0 rgba(255,255,255,0.6),inset 0 -1px 0 rgba(255,255,255,0.4);"></div><div style="position:absolute;left:661.50px;top:586.20px;font-size:4.55px;line-height:6.0px;color:#1e1e1e;font-weight:normal;white-space:nowrap;">5 (3%)</div><div style="position:absolute;left:703.60px;top:584.00px;width:44.10px;height:8.20px;background:#e9edf4;box-shadow:inset 0 -1px 0 rgba(255,255,255,0.4);"></div><div style="position:absolute;left:705.80px;top:586.20px;font-size:4.55px;line-height:6.0px;color:#1e1e1e;font-weight:normal;white-space:nowrap;">4 (2%)</div><div style="position:absolute;left:614.80px;top:592.20px;width:44.50px;height:7.90px;background:#d0d8e8;box-shadow:inset -1px 0 0 rgba(255,255,255,0.6),inset 0 -1px 0 rgba(255,255,255,0.4);"></div><div style="position:absolute;left:617.00px;top:594.40px;font-size:4.55px;line-height:6.0px;color:#1e1e1e;font-weight:normal;white-space:nowrap;">Odynophagia</div><div style="position:absolute;left:659.30px;top:592.20px;width:44.30px;height:7.90px;background:#d0d8e8;box-shadow:inset -1px 0 0 rgba(255,255,255,0.6),inset 0 -1px 0 rgba(255,255,255,0.4);"></div><div style="position:absolute;left:661.50px;top:594.40px;font-size:4.55px;line-height:6.0px;color:#1e1e1e;font-weight:normal;white-space:nowrap;">0</div><div style="position:absolute;left:703.60px;top:592.20px;width:44.10px;height:7.90px;background:#d0d8e8;box-shadow:inset 0 -1px 0 rgba(255,255,255,0.4);"></div><div style="position:absolute;left:705.80px;top:594.40px;font-size:4.55px;line-height:6.0px;color:#1e1e1e;font-weight:normal;white-space:nowrap;">6 (3%)</div><div style="position:absolute;left:614.80px;top:600.10px;width:44.50px;height:8.20px;background:#e9edf4;box-shadow:inset -1px 0 0 rgba(255,255,255,0.6),inset 0 -1px 0 rgba(255,255,255,0.4);"></div><div style="position:absolute;left:617.00px;top:602.30px;font-size:4.55px;line-height:6.0px;color:#1e1e1e;font-weight:normal;white-space:nowrap;">Dysphagia</div><div style="position:absolute;left:659.30px;top:600.10px;width:44.30px;height:8.20px;background:#e9edf4;box-shadow:inset -1px 0 0 rgba(255,255,255,0.6),inset 0 -1px 0 rgba(255,255,255,0.4);"></div><div style="position:absolute;left:661.50px;top:602.30px;font-size:4.55px;line-height:6.0px;color:#1e1e1e;font-weight:normal;white-space:nowrap;">2 (1%)</div><div style="position:absolute;left:703.60px;top:600.10px;width:44.10px;height:8.20px;background:#e9edf4;box-shadow:inset 0 -1px 0 rgba(255,255,255,0.4);"></div><div style="position:absolute;left:705.80px;top:602.30px;font-size:4.55px;line-height:6.0px;color:#1e1e1e;font-weight:normal;white-space:nowrap;">4 (2%)</div>
<div class="t" style="top:485.60px;font-size:6.93px;line-height:8.65px;left:746.30px;width:200px;text-align:center;">Figure 3 Positive histological results for GI-GVHD<br>based on symptom and endoscopy procedure</div>
<div class="hd" style="left:745px;top:624px;width:191.5px;height:21.700000000000045px;"></div>
<div class="t" style="top:628.30px;font-size:13.25px;line-height:15.899999999999999px;left:745.00px;width:191.5px;text-align:center;font-weight:bold;">ACKNOWLEDGEMENTS</div>
<div class="t" style="top:654.00px;font-size:7.77px;line-height:9.2px;left:748.50px;">Funding:<br>AL was supported in part by a grant from the<br>MedScholars Program at the Stanford University<br>School of Medicine.</div>
<svg style="position:absolute;left:0;top:0;overflow:visible" width="960" height="720" viewBox="0 0 960 720"><rect x="528" y="220" width="204" height="122.19999999999999" fill="#fff"/><line x1="542.6" y1="302.10" x2="544.1" y2="302.10" stroke="#888" stroke-width="0.5"/><text x="541.1" y="303.70" font-size="4.6" text-anchor="end" fill="#333">0</text><line x1="544.1" y1="289.42" x2="689.6" y2="289.42" stroke="#b8b8b8" stroke-width="0.5"/><line x1="542.6" y1="289.42" x2="544.1" y2="289.42" stroke="#888" stroke-width="0.5"/><text x="541.1" y="291.02" font-size="4.6" text-anchor="end" fill="#333">0.2</text><line x1="544.1" y1="276.74" x2="689.6" y2="276.74" stroke="#b8b8b8" stroke-width="0.5"/><line x1="542.6" y1="276.74" x2="544.1" y2="276.74" stroke="#888" stroke-width="0.5"/><text x="541.1" y="278.34" font-size="4.6" text-anchor="end" fill="#333">0.4</text><line x1="544.1" y1="264.06" x2="689.6" y2="264.06" stroke="#b8b8b8" stroke-width="0.5"/><line x1="542.6" y1="264.06" x2="544.1" y2="264.06" stroke="#888" stroke-width="0.5"/><text x="541.1" y="265.66" font-size="4.6" text-anchor="end" fill="#333">0.6</text><line x1="544.1" y1="251.38" x2="689.6" y2="251.38" stroke="#b8b8b8" stroke-width="0.5"/><line x1="542.6" y1="251.38" x2="544.1" y2="251.38" stroke="#888" stroke-width="0.5"/><text x="541.1" y="252.98" font-size="4.6" text-anchor="end" fill="#333">0.8</text><line x1="544.1" y1="238.70" x2="689.6" y2="238.70" stroke="#b8b8b8" stroke-width="0.5"/><line x1="542.6" y1="238.70" x2="544.1" y2="238.70" stroke="#888" stroke-width="0.5"/><text x="541.1" y="240.30" font-size="4.6" text-anchor="end" fill="#333">1</text><line x1="544.1" y1="226.02" x2="689.6" y2="226.02" stroke="#b8b8b8" stroke-width="0.5"/><line x1="542.6" y1="226.02" x2="544.1" y2="226.02" stroke="#888" stroke-width="0.5"/><text x="541.1" y="227.62" font-size="4.6" text-anchor="end" fill="#333">1.2</text><line x1="544.1" y1="226.02" x2="544.1" y2="302.1" stroke="#b4b4b4" stroke-width="0.6"/><line x1="544.1" y1="302.1" x2="689.6" y2="302.1" stroke="#b4b4b4" stroke-width="0.6"/><rect x="546.93" y="290.69" width="3.78" height="11.41" fill="#4f81bd"/><rect x="550.71" y="240.29" width="3.78" height="61.81" fill="#c0504d"/><text x="548.02" y="286.49" font-size="5.3" text-anchor="middle" fill="#1a1a1a" font-family="Liberation Serif,serif">18%</text><line x1="557.33" y1="302.1" x2="557.33" y2="303.6" stroke="#888" stroke-width="0.5"/><text transform="translate(551.91,307.70) rotate(-46)" font-size="5.4" text-anchor="end" fill="#333">esophagus</text><rect x="560.16" y="276.74" width="3.78" height="25.36" fill="#4f81bd"/><rect x="563.94" y="239.02" width="3.78" height="63.08" fill="#c0504d"/><text x="561.25" y="272.54" font-size="5.3" text-anchor="middle" fill="#1a1a1a" font-family="Liberation Serif,serif">40%</text><line x1="570.55" y1="302.1" x2="570.55" y2="303.6" stroke="#888" stroke-width="0.5"/><text transform="translate(565.14,307.70) rotate(-46)" font-size="5.4" text-anchor="end" fill="#333">stomach</text><rect x="573.39" y="264.06" width="3.78" height="38.04" fill="#4f81bd"/><rect x="577.17" y="239.33" width="3.78" height="62.77" fill="#c0504d"/><text x="574.48" y="259.86" font-size="5.3" text-anchor="middle" fill="#1a1a1a" font-family="Liberation Serif,serif">60%</text><line x1="583.78" y1="302.1" x2="583.78" y2="303.6" stroke="#888" stroke-width="0.5"/><text transform="translate(578.37,307.70) rotate(-46)" font-size="5.4" text-anchor="end" fill="#333">duodenum</text><rect x="586.62" y="252.01" width="3.78" height="50.09" fill="#4f81bd"/><rect x="590.40" y="243.77" width="3.78" height="58.33" fill="#c0504d"/><text x="587.71" y="247.81" font-size="5.3" text-anchor="middle" fill="#1a1a1a" font-family="Liberation Serif,serif">79%</text><line x1="597.01" y1="302.1" x2="597.01" y2="303.6" stroke="#888" stroke-width="0.5"/><text transform="translate(591.60,307.70) rotate(-46)" font-size="5.4" text-anchor="end" fill="#333">terminal ileum</text><rect x="599.84" y="259.62" width="3.78" height="42.48" fill="#4f81bd"/><rect x="603.62" y="244.09" width="3.78" height="58.01" fill="#c0504d"/><text x="600.93" y="255.42" font-size="5.3" text-anchor="middle" fill="#1a1a1a" font-family="Liberation Serif,serif">67%</text><line x1="610.24" y1="302.1" x2="610.24" y2="303.6" stroke="#888" stroke-width="0.5"/><text transform="translate(604.82,307.70) rotate(-46)" font-size="5.4" text-anchor="end" fill="#333">cecum</text><rect x="613.07" y="255.18" width="3.78" height="46.92" fill="#4f81bd"/><rect x="616.85" y="242.50" width="3.78" height="59.60" fill="#c0504d"/><text x="614.16" y="250.98" font-size="5.3" text-anchor="middle" fill="#1a1a1a" font-family="Liberation Serif,serif">74%</text><line x1="623.46" y1="302.1" x2="623.46" y2="303.6" stroke="#888" stroke-width="0.5"/><text transform="translate(618.05,307.70) rotate(-46)" font-size="5.4" text-anchor="end" fill="#333">ascending colon</text><rect x="626.30" y="255.82" width="3.78" height="46.28" fill="#4f81bd"/><rect x="630.08" y="251.38" width="3.78" height="50.72" fill="#c0504d"/><text x="627.39" y="251.62" font-size="5.3" text-anchor="middle" fill="#1a1a1a" font-family="Liberation Serif,serif">73%</text><line x1="636.69" y1="302.1" x2="636.69" y2="303.6" stroke="#888" stroke-width="0.5"/><text transform="translate(631.28,307.70) rotate(-46)" font-size="5.4" text-anchor="end" fill="#333">transverse colon</text><rect x="639.53" y="255.82" width="3.78" height="46.28" fill="#4f81bd"/><rect x="643.30" y="238.70" width="3.78" height="63.40" fill="#c0504d"/><text x="640.61" y="251.62" font-size="5.3" text-anchor="middle" fill="#1a1a1a" font-family="Liberation Serif,serif">73%</text><line x1="649.92" y1="302.1" x2="649.92" y2="303.6" stroke="#888" stroke-width="0.5"/><text transform="translate(644.50,307.70) rotate(-46)" font-size="5.4" text-anchor="end" fill="#333">descending colon</text><rect x="652.75" y="258.99" width="3.78" height="43.11" fill="#4f81bd"/><rect x="656.53" y="240.92" width="3.78" height="61.18" fill="#c0504d"/><text x="653.84" y="254.79" font-size="5.3" text-anchor="middle" fill="#1a1a1a" font-family="Liberation Serif,serif">68%</text><line x1="663.15" y1="302.1" x2="663.15" y2="303.6" stroke="#888" stroke-width="0.5"/><text transform="translate(657.73,307.70) rotate(-46)" font-size="5.4" text-anchor="end" fill="#333">random colon</text><rect x="665.98" y="258.35" width="3.78" height="43.75" fill="#4f81bd"/><rect x="669.76" y="247.26" width="3.78" height="54.84" fill="#c0504d"/><text x="667.07" y="254.15" font-size="5.3" text-anchor="middle" fill="#1a1a1a" font-family="Liberation Serif,serif">69%</text><line x1="676.37" y1="302.1" x2="676.37" y2="303.6" stroke="#888" stroke-width="0.5"/><text transform="translate(670.96,307.70) rotate(-46)" font-size="5.4" text-anchor="end" fill="#333">sigmoid</text><rect x="679.21" y="276.74" width="3.78" height="25.36" fill="#4f81bd"/><rect x="682.99" y="238.70" width="3.78" height="63.40" fill="#c0504d"/><text x="680.30" y="272.54" font-size="5.3" text-anchor="middle" fill="#1a1a1a" font-family="Liberation Serif,serif">40%</text><line x1="689.60" y1="302.1" x2="689.60" y2="303.6" stroke="#888" stroke-width="0.5"/><text transform="translate(684.19,307.70) rotate(-46)" font-size="5.4" text-anchor="end" fill="#333">rectum</text><rect x="698.3" y="274.6" width="3.5" height="3.7" fill="#4f81bd"/><text x="703" y="278" font-size="5.3" fill="#222">Sensitivity</text><rect x="698.3" y="285" width="3.5" height="3.7" fill="#c0504d"/><text x="703" y="288.4" font-size="5.3" fill="#222">Specificity</text></svg>
<svg style="position:absolute;left:0;top:0;overflow:visible" width="960" height="720" viewBox="0 0 960 720"><rect x="352.3" y="497.2" width="160.7" height="95.90000000000003" fill="#fff"/><line x1="413.90" y1="581.6" x2="413.90" y2="583.1" stroke="#888" stroke-width="0.5"/><text x="413.90" y="589.40" font-size="4.3" text-anchor="middle" fill="#222" font-family="Liberation Serif,serif">0</text><line x1="432.42" y1="502" x2="432.42" y2="581.6" stroke="#a0a0a0" stroke-width="0.5"/><line x1="432.42" y1="581.6" x2="432.42" y2="583.1" stroke="#888" stroke-width="0.5"/><text x="432.42" y="589.40" font-size="4.3" text-anchor="middle" fill="#222" font-family="Liberation Serif,serif">0.2</text><line x1="450.94" y1="502" x2="450.94" y2="581.6" stroke="#a0a0a0" stroke-width="0.5"/><line x1="450.94" y1="581.6" x2="450.94" y2="583.1" stroke="#888" stroke-width="0.5"/><text x="450.94" y="589.40" font-size="4.3" text-anchor="middle" fill="#222" font-family="Liberation Serif,serif">0.4</text><line x1="469.46" y1="502" x2="469.46" y2="581.6" stroke="#a0a0a0" stroke-width="0.5"/><line x1="469.46" y1="581.6" x2="469.46" y2="583.1" stroke="#888" stroke-width="0.5"/><text x="469.46" y="589.40" font-size="4.3" text-anchor="middle" fill="#222" font-family="Liberation Serif,serif">0.6</text><line x1="487.98" y1="502" x2="487.98" y2="581.6" stroke="#a0a0a0" stroke-width="0.5"/><line x1="487.98" y1="581.6" x2="487.98" y2="583.1" stroke="#888" stroke-width="0.5"/><text x="487.98" y="589.40" font-size="4.3" text-anchor="middle" fill="#222" font-family="Liberation Serif,serif">0.8</text><line x1="506.50" y1="502" x2="506.50" y2="581.6" stroke="#a0a0a0" stroke-width="0.5"/><line x1="506.50" y1="581.6" x2="506.50" y2="583.1" stroke="#888" stroke-width="0.5"/><text x="506.50" y="589.40" font-size="4.3" text-anchor="middle" fill="#222" font-family="Liberation Serif,serif">1</text><line x1="413.9" y1="502" x2="413.9" y2="581.6" stroke="#b4b4b4" stroke-width="0.6"/><line x1="413.9" y1="581.6" x2="506.5" y2="581.6" stroke="#b4b4b4" stroke-width="0.6"/><line x1="412.4" y1="502.00" x2="413.9" y2="502.00" stroke="#888" stroke-width="0.5"/><line x1="412.4" y1="521.90" x2="413.9" y2="521.90" stroke="#888" stroke-width="0.5"/><line x1="412.4" y1="541.80" x2="413.9" y2="541.80" stroke="#888" stroke-width="0.5"/><line x1="412.4" y1="561.70" x2="413.9" y2="561.70" stroke="#888" stroke-width="0.5"/><line x1="412.4" y1="581.60" x2="413.9" y2="581.60" stroke="#888" stroke-width="0.5"/><rect x="413.9" y="508.2" width="68.52" height="7.30" fill="#4f81bd"/><text x="410.4" y="513.35" font-size="4.3" text-anchor="end" fill="#222" font-family="Liberation Serif,serif">Single Endoscopy n=87</text><text x="486.92" y="513.35" font-size="4.3" fill="#222" font-family="Liberation Serif,serif">74%</text><rect x="413.9" y="528.2" width="75.93" height="7.50" fill="#4f81bd"/><text x="410.4" y="533.45" font-size="4.3" text-anchor="end" fill="#222" font-family="Liberation Serif,serif">Bi-directional Endoscopy n=92</text><text x="494.33" y="533.45" font-size="4.3" fill="#222" font-family="Liberation Serif,serif">82%</text><rect x="413.9" y="548.3" width="44.45" height="7.50" fill="#4f81bd"/><text x="410.4" y="553.55" font-size="4.3" text-anchor="end" fill="#222" font-family="Liberation Serif,serif">Upper Only n=29</text><text x="462.85" y="553.55" font-size="4.3" fill="#222" font-family="Liberation Serif,serif">48%</text><rect x="413.9" y="568.3" width="79.64" height="7.50" fill="#4f81bd"/><text x="410.4" y="573.55" font-size="4.3" text-anchor="end" fill="#222" font-family="Liberation Serif,serif">Lower Only n=58</text><text x="498.04" y="573.55" font-size="4.3" fill="#222" font-family="Liberation Serif,serif">86%</text></svg>
<svg style="position:absolute;left:0;top:0;overflow:visible" width="960" height="720" viewBox="0 0 960 720"><rect x="769.4" y="505.7" width="158.39999999999998" height="94.30000000000001" fill="#fff"/><line x1="780.1" y1="589.30" x2="781.6" y2="589.30" stroke="#888" stroke-width="0.5"/><text x="777.6" y="590.80" font-size="4.2" text-anchor="end" fill="#222" font-weight="bold" font-family="Liberation Serif,serif">0</text><line x1="781.6" y1="581.37" x2="882.8" y2="581.37" stroke="#a8a8a8" stroke-width="0.5"/><line x1="780.1" y1="581.37" x2="781.6" y2="581.37" stroke="#888" stroke-width="0.5"/><text x="777.6" y="582.87" font-size="4.2" text-anchor="end" fill="#222" font-weight="bold" font-family="Liberation Serif,serif">0.1</text><line x1="781.6" y1="573.44" x2="882.8" y2="573.44" stroke="#a8a8a8" stroke-width="0.5"/><line x1="780.1" y1="573.44" x2="781.6" y2="573.44" stroke="#888" stroke-width="0.5"/><text x="777.6" y="574.94" font-size="4.2" text-anchor="end" fill="#222" font-weight="bold" font-family="Liberation Serif,serif">0.2</text><line x1="781.6" y1="565.51" x2="882.8" y2="565.51" stroke="#a8a8a8" stroke-width="0.5"/><line x1="780.1" y1="565.51" x2="781.6" y2="565.51" stroke="#888" stroke-width="0.5"/><text x="777.6" y="567.01" font-size="4.2" text-anchor="end" fill="#222" font-weight="bold" font-family="Liberation Serif,serif">0.3</text><line x1="781.6" y1="557.58" x2="882.8" y2="557.58" stroke="#a8a8a8" stroke-width="0.5"/><line x1="780.1" y1="557.58" x2="781.6" y2="557.58" stroke="#888" stroke-width="0.5"/><text x="777.6" y="559.08" font-size="4.2" text-anchor="end" fill="#222" font-weight="bold" font-family="Liberation Serif,serif">0.4</text><line x1="781.6" y1="549.65" x2="882.8" y2="549.65" stroke="#a8a8a8" stroke-width="0.5"/><line x1="780.1" y1="549.65" x2="781.6" y2="549.65" stroke="#888" stroke-width="0.5"/><text x="777.6" y="551.15" font-size="4.2" text-anchor="end" fill="#222" font-weight="bold" font-family="Liberation Serif,serif">0.5</text><line x1="781.6" y1="541.72" x2="882.8" y2="541.72" stroke="#a8a8a8" stroke-width="0.5"/><line x1="780.1" y1="541.72" x2="781.6" y2="541.72" stroke="#888" stroke-width="0.5"/><text x="777.6" y="543.22" font-size="4.2" text-anchor="end" fill="#222" font-weight="bold" font-family="Liberation Serif,serif">0.6</text><line x1="781.6" y1="533.79" x2="882.8" y2="533.79" stroke="#a8a8a8" stroke-width="0.5"/><line x1="780.1" y1="533.79" x2="781.6" y2="533.79" stroke="#888" stroke-width="0.5"/><text x="777.6" y="535.29" font-size="4.2" text-anchor="end" fill="#222" font-weight="bold" font-family="Liberation Serif,serif">0.7</text><line x1="781.6" y1="525.86" x2="882.8" y2="525.86" stroke="#a8a8a8" stroke-width="0.5"/><line x1="780.1" y1="525.86" x2="781.6" y2="525.86" stroke="#888" stroke-width="0.5"/><text x="777.6" y="527.36" font-size="4.2" text-anchor="end" fill="#222" font-weight="bold" font-family="Liberation Serif,serif">0.8</text><line x1="781.6" y1="517.93" x2="882.8" y2="517.93" stroke="#a8a8a8" stroke-width="0.5"/><line x1="780.1" y1="517.93" x2="781.6" y2="517.93" stroke="#888" stroke-width="0.5"/><text x="777.6" y="519.43" font-size="4.2" text-anchor="end" fill="#222" font-weight="bold" font-family="Liberation Serif,serif">0.9</text><line x1="781.6" y1="510.00" x2="882.8" y2="510.00" stroke="#a8a8a8" stroke-width="0.5"/><line x1="780.1" y1="510.00" x2="781.6" y2="510.00" stroke="#888" stroke-width="0.5"/><text x="777.6" y="511.50" font-size="4.2" text-anchor="end" fill="#222" font-weight="bold" font-family="Liberation Serif,serif">1</text><line x1="781.6" y1="509.99999999999994" x2="781.6" y2="589.3" stroke="#b4b4b4" stroke-width="0.6"/><line x1="781.6" y1="589.3" x2="882.8" y2="589.3" stroke="#b4b4b4" stroke-width="0.6"/><rect x="789.07" y="546.48" width="9.4" height="42.82" fill="#4f81bd"/><rect x="798.47" y="525.86" width="9.4" height="63.44" fill="#c0504d"/><text x="793.77" y="544.48" font-size="4.2" text-anchor="middle" fill="#222" font-family="Liberation Serif,serif" font-weight="bold">54%</text><text x="803.17" y="523.86" font-size="4.2" text-anchor="middle" fill="#222" font-family="Liberation Serif,serif" font-weight="bold">80%</text><text x="798.47" y="596.80" font-size="4.4" text-anchor="middle" fill="#222" font-family="Liberation Serif,serif" font-weight="bold">Upper</text><line x1="815.33" y1="589.3" x2="815.33" y2="590.8" stroke="#888" stroke-width="0.5"/><rect x="822.80" y="525.86" width="9.4" height="63.44" fill="#4f81bd"/><rect x="832.20" y="521.10" width="9.4" height="68.20" fill="#c0504d"/><text x="827.50" y="523.86" font-size="4.2" text-anchor="middle" fill="#222" font-family="Liberation Serif,serif" font-weight="bold">80%</text><text x="836.90" y="519.10" font-size="4.2" text-anchor="middle" fill="#222" font-family="Liberation Serif,serif" font-weight="bold">86%</text><text x="832.20" y="596.80" font-size="4.4" text-anchor="middle" fill="#222" font-family="Liberation Serif,serif" font-weight="bold">Lower</text><line x1="849.07" y1="589.3" x2="849.07" y2="590.8" stroke="#888" stroke-width="0.5"/><rect x="856.53" y="521.10" width="9.4" height="68.20" fill="#4f81bd"/><rect x="865.93" y="521.10" width="9.4" height="68.20" fill="#c0504d"/><text x="861.23" y="519.10" font-size="4.2" text-anchor="middle" fill="#222" font-family="Liberation Serif,serif" font-weight="bold">86%</text><text x="870.63" y="519.10" font-size="4.2" text-anchor="middle" fill="#222" font-family="Liberation Serif,serif" font-weight="bold">86%</text><text x="865.93" y="596.80" font-size="4.4" text-anchor="middle" fill="#222" font-family="Liberation Serif,serif" font-weight="bold">Bi-directional</text><line x1="882.80" y1="589.3" x2="882.80" y2="590.8" stroke="#888" stroke-width="0.5"/><rect x="887.6" y="547.3" width="3.4" height="3.4" fill="#4f81bd"/><text x="891.8" y="550.4" font-size="4.1" fill="#222" font-family="Liberation Serif,serif" font-weight="bold">Nausea/vomiting</text><rect x="887.6" y="555.2" width="3.4" height="3.4" fill="#c0504d"/><text x="891.8" y="558.3" font-size="4.1" fill="#222" font-family="Liberation Serif,serif" font-weight="bold">Diarrhea</text></svg></body></html>
